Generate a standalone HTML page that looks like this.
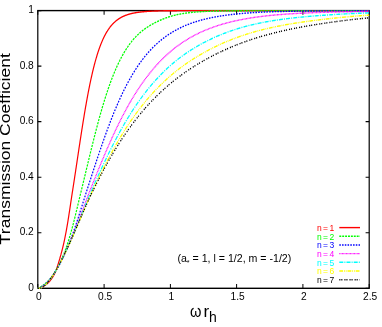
<!DOCTYPE html>
<html><head><meta charset="utf-8"><title>chart</title>
<style>
html,body{margin:0;padding:0;background:#fff;}
body{width:382px;height:327px;position:relative;overflow:hidden;font-family:"Liberation Sans",sans-serif;color:#000;}
.t{position:absolute;font-size:10.2px;line-height:12px;white-space:nowrap;}
.yt{left:0;width:33.8px;text-align:right;}
.xt{top:290.8px;width:40px;text-align:center;}
.lg{position:absolute;left:300px;width:34.2px;text-align:right;font-size:8.5px;line-height:10px;white-space:nowrap;word-spacing:-1px;}
.yl{position:absolute;left:-95.1px;top:139.35px;width:200px;height:20px;line-height:20px;font-size:15px;text-align:center;transform:rotate(-90deg) scaleX(1.167);transform-origin:center center;white-space:nowrap;font-variant-ligatures:none;font-kerning:none;}
.xl{position:absolute;font-size:17px;line-height:20px;height:20px;white-space:nowrap;}
.om{left:189.8px;top:302.1px;transform:scaleX(0.86);transform-origin:0 0;}
.rr{left:203.4px;top:302.1px;}
.hh{left:208.9px;top:307.3px;font-size:14px;}
.an{position:absolute;left:177.4px;top:251.8px;font-size:10.62px;line-height:13px;white-space:nowrap;}
.an sub{font-size:7px;vertical-align:baseline;position:relative;top:3px;}
</style></head><body>
<svg width="382" height="327" viewBox="0 0 382 327" style="position:absolute;left:0;top:0">
<g transform="scale(1,1.167)" fill="none" stroke-width="1.2">
<rect x="37.8" y="9.083" width="331.40" height="237.961" stroke="#000"/>
<path d="M37.8,247.04 v-3.60 M37.8,9.08 v3.60 M37.8,247.04 h3.6 M369.2,247.04 h-3.6 M104.1,247.04 v-3.60 M104.1,9.08 v3.60 M37.8,199.45 h3.6 M369.2,199.45 h-3.6 M170.4,247.04 v-3.60 M170.4,9.08 v3.60 M37.8,151.86 h3.6 M369.2,151.86 h-3.6 M236.6,247.04 v-3.60 M236.6,9.08 v3.60 M37.8,104.27 h3.6 M369.2,104.27 h-3.6 M302.9,247.04 v-3.60 M302.9,9.08 v3.60 M37.8,56.68 h3.6 M369.2,56.68 h-3.6 M369.2,247.04 v-3.60 M369.2,9.08 v3.60 M37.8,9.08 h3.6 M369.2,9.08 h-3.6" stroke="#000" stroke-width="1"/>
<path d="M37.80,247.04 L39.05,247.03 L39.26,246.97 L39.48,246.91 L39.69,246.84 L39.91,246.78 L40.13,246.71 L40.34,246.64 L40.56,246.57 L40.78,246.49 L40.99,246.42 L41.21,246.34 L41.43,246.26 L41.65,246.17 L41.86,246.08 L42.08,245.99 L42.30,245.90 L42.52,245.81 L42.74,245.71 L42.95,245.61 L43.17,245.51 L43.39,245.40 L43.61,245.29 L43.83,245.18 L44.05,245.06 L44.27,244.94 L44.49,244.82 L44.71,244.70 L44.93,244.57 L45.15,244.43 L45.38,244.30 L45.60,244.16 L45.82,244.02 L46.04,243.87 L46.26,243.72 L46.49,243.56 L46.71,243.41 L46.93,243.24 L47.16,243.08 L47.38,242.91 L47.60,242.73 L47.83,242.55 L48.05,242.37 L48.28,242.18 L48.50,241.99 L48.73,241.79 L48.95,241.59 L49.17,241.39 L49.40,241.17 L49.62,240.96 L49.85,240.74 L50.07,240.51 L50.30,240.28 L50.52,240.04 L50.74,239.80 L50.97,239.55 L51.19,239.30 L51.41,239.04 L51.63,238.78 L51.86,238.50 L52.07,238.23 L52.29,237.95 L52.51,237.66 L52.73,237.36 L52.94,237.06 L53.16,236.76 L53.37,236.44 L53.58,236.12 L53.79,235.79 L54.00,235.46 L54.21,235.12 L54.41,234.77 L54.61,234.42 L54.81,234.06 L55.01,233.69 L55.21,233.31 L55.40,232.93 L55.60,232.54 L55.79,232.14 L55.98,231.74 L56.17,231.32 L56.35,230.90 L56.54,230.47 L56.72,230.03 L56.90,229.59 L57.09,229.13 L57.27,228.67 L57.45,228.20 L57.63,227.72 L57.81,227.24 L57.99,226.74 L58.18,226.23 L58.36,225.72 L58.54,225.20 L58.73,224.67 L58.92,224.13 L59.11,223.58 L59.30,223.02 L59.49,222.45 L59.69,221.88 L59.88,221.29 L60.08,220.69 L60.28,220.09 L60.48,219.47 L60.68,218.85 L60.89,218.22 L61.09,217.57 L61.30,216.92 L61.51,216.26 L61.72,215.58 L61.93,214.90 L62.14,214.21 L62.35,213.51 L62.56,212.79 L62.76,212.07 L62.97,211.34 L63.18,210.60 L63.39,209.84 L63.59,209.08 L63.80,208.31 L64.00,207.53 L64.20,206.73 L64.40,205.93 L64.60,205.12 L64.80,204.30 L65.00,203.47 L65.20,202.62 L65.39,201.77 L65.59,200.91 L65.78,200.04 L65.98,199.15 L66.17,198.26 L66.36,197.36 L66.55,196.45 L66.74,195.53 L66.93,194.60 L67.12,193.66 L67.31,192.71 L67.50,191.75 L67.69,190.79 L67.87,189.81 L68.06,188.83 L68.25,187.83 L68.43,186.83 L68.62,185.82 L68.80,184.80 L68.99,183.77 L69.18,182.73 L69.36,181.69 L69.55,180.63 L69.74,179.57 L69.92,178.50 L70.11,177.43 L70.30,176.34 L70.49,175.25 L70.69,174.16 L70.88,173.05 L71.07,171.94 L71.27,170.82 L71.47,169.70 L71.67,168.57 L71.87,167.43 L72.07,166.29 L72.28,165.14 L72.49,163.99 L72.70,162.83 L72.91,161.67 L73.12,160.50 L73.34,159.32 L73.55,158.15 L73.76,156.97 L73.97,155.78 L74.18,154.59 L74.40,153.40 L74.61,152.21 L74.82,151.01 L75.03,149.81 L75.25,148.61 L75.46,147.40 L75.67,146.19 L75.88,144.98 L76.10,143.77 L76.31,142.56 L76.52,141.35 L76.73,140.14 L76.95,138.92 L77.16,137.71 L77.37,136.49 L77.58,135.28 L77.80,134.06 L78.01,132.85 L78.22,131.64 L78.43,130.43 L78.64,129.22 L78.86,128.01 L79.07,126.80 L79.28,125.60 L79.49,124.40 L79.71,123.20 L79.92,122.00 L80.13,120.81 L80.34,119.62 L80.56,118.43 L80.77,117.25 L80.98,116.07 L81.19,114.89 L81.41,113.72 L81.62,112.55 L81.83,111.39 L82.04,110.23 L82.26,109.08 L82.47,107.93 L82.68,106.79 L82.89,105.65 L83.10,104.52 L83.32,103.40 L83.53,102.28 L83.74,101.17 L83.95,100.06 L84.17,98.96 L84.38,97.86 L84.59,96.78 L84.80,95.70 L85.02,94.63 L85.23,93.56 L85.44,92.50 L85.65,91.45 L85.87,90.41 L86.08,89.37 L86.29,88.34 L86.50,87.32 L86.72,86.31 L86.93,85.30 L87.14,84.31 L87.35,83.32 L87.57,82.34 L87.78,81.37 L87.99,80.40 L88.20,79.45 L88.41,78.50 L88.63,77.56 L88.84,76.63 L89.05,75.71 L89.26,74.80 L89.48,73.89 L89.69,73.00 L89.90,72.11 L90.11,71.24 L90.33,70.37 L90.54,69.51 L90.75,68.66 L90.96,67.81 L91.18,66.98 L91.39,66.16 L91.60,65.34 L91.81,64.53 L92.03,63.73 L92.24,62.95 L92.45,62.16 L92.66,61.39 L92.87,60.63 L93.09,59.88 L93.30,59.13 L93.51,58.39 L93.72,57.67 L93.94,56.95 L94.15,56.24 L94.36,55.53 L94.57,54.84 L94.79,54.15 L95.00,53.48 L95.21,52.81 L95.42,52.15 L95.64,51.50 L95.85,50.85 L96.06,50.22 L96.27,49.59 L96.49,48.97 L96.70,48.36 L96.91,47.76 L97.12,47.16 L97.33,46.58 L97.55,46.00 L97.76,45.43 L97.97,44.86 L98.18,44.31 L98.40,43.76 L98.61,43.22 L98.82,42.68 L99.03,42.16 L99.25,41.64 L99.46,41.13 L99.67,40.62 L99.88,40.12 L100.10,39.63 L100.31,39.15 L100.52,38.67 L100.73,38.20 L100.95,37.74 L101.16,37.28 L101.37,36.83 L101.58,36.39 L101.80,35.95 L102.01,35.52 L102.22,35.10 L102.43,34.68 L102.64,34.27 L102.86,33.86 L103.07,33.46 L103.28,33.07 L103.49,32.68 L103.71,32.30 L103.92,31.92 L104.13,31.55 L104.34,31.19 L104.56,30.83 L104.77,30.47 L104.98,30.13 L105.19,29.78 L105.41,29.44 L105.62,29.11 L105.83,28.78 L106.04,28.46 L106.26,28.14 L106.47,27.83 L106.68,27.52 L106.89,27.22 L107.10,26.92 L107.32,26.63 L107.53,26.34 L107.74,26.05 L107.95,25.77 L108.17,25.50 L108.38,25.23 L108.59,24.96 L108.80,24.70 L109.02,24.44 L109.23,24.18 L109.44,23.93 L109.65,23.69 L109.87,23.45 L110.08,23.21 L110.29,22.97 L110.50,22.74 L110.72,22.51 L110.93,22.29 L111.14,22.07 L111.35,21.85 L111.56,21.64 L111.78,21.43 L111.99,21.22 L112.20,21.02 L112.41,20.82 L112.63,20.63 L112.84,20.43 L113.05,20.24 L113.26,20.06 L113.48,19.87 L113.69,19.69 L113.90,19.51 L114.11,19.34 L114.33,19.17 L114.54,19.00 L114.75,18.83 L114.96,18.67 L115.18,18.51 L115.39,18.35 L115.60,18.19 L115.81,18.04 L116.03,17.89 L116.24,17.74 L116.45,17.59 L116.66,17.45 L116.87,17.31 L117.09,17.17 L117.30,17.04 L117.51,16.90 L117.72,16.77 L117.94,16.64 L118.15,16.51 L118.36,16.39 L118.57,16.26 L118.79,16.14 L119.00,16.02 L119.21,15.91 L119.42,15.79 L119.64,15.68 L119.85,15.57 L120.06,15.46 L120.27,15.35 L120.49,15.24 L120.70,15.14 L120.91,15.04 L121.12,14.94 L121.33,14.84 L121.55,14.74 L121.76,14.64 L121.97,14.55 L122.18,14.46 L122.40,14.37 L122.61,14.28 L122.82,14.19 L123.03,14.10 L123.25,14.02 L123.46,13.93 L123.67,13.85 L123.88,13.77 L124.10,13.69 L124.31,13.61 L124.52,13.54 L124.73,13.46 L124.95,13.39 L125.16,13.31 L125.37,13.24 L125.58,13.17 L125.80,13.10 L126.01,13.03 L126.22,12.97 L126.43,12.90 L126.64,12.84 L126.86,12.77 L127.07,12.71 L127.28,12.65 L127.49,12.59 L127.71,12.53 L127.92,12.47 L128.13,12.41 L128.34,12.35 L128.56,12.30 L128.77,12.24 L128.98,12.19 L129.19,12.14 L129.41,12.09 L129.62,12.03 L129.83,11.98 L130.04,11.94 L130.26,11.89 L130.47,11.84 L130.68,11.79 L130.89,11.75 L131.10,11.70 L131.32,11.66 L131.53,11.61 L131.74,11.57 L131.95,11.53 L132.17,11.49 L132.38,11.44 L132.59,11.40 L132.80,11.36 L133.02,11.33 L133.23,11.29 L133.44,11.25 L133.65,11.21 L133.87,11.18 L134.08,11.14 L134.29,11.11 L134.50,11.07 L134.72,11.04 L134.93,11.00 L135.14,10.97 L135.35,10.94 L135.56,10.91 L135.78,10.88 L135.99,10.85 L136.20,10.82 L136.41,10.79 L136.63,10.76 L136.84,10.73 L137.05,10.70 L137.26,10.67 L137.48,10.65 L137.69,10.62 L137.90,10.59 L138.11,10.57 L138.33,10.54 L138.54,10.52 L138.75,10.49 L138.96,10.47 L139.18,10.45 L139.39,10.42 L139.60,10.40 L139.81,10.38 L140.03,10.35 L140.24,10.33 L140.45,10.31 L140.66,10.29 L140.87,10.27 L141.09,10.25 L141.30,10.23 L141.51,10.21 L141.72,10.19 L141.94,10.17 L142.15,10.15 L142.36,10.13 L142.57,10.12 L142.79,10.10 L143.00,10.08 L143.21,10.06 L143.42,10.05 L143.64,10.03 L143.85,10.01 L144.41,9.97 L144.98,9.93 L145.54,9.89 L146.11,9.86 L146.67,9.82 L147.24,9.79 L147.80,9.76 L148.37,9.73 L148.93,9.70 L149.50,9.67 L150.06,9.64 L150.63,9.62 L151.19,9.60 L151.76,9.57 L152.32,9.55 L152.88,9.53 L153.45,9.51 L154.01,9.49 L154.58,9.47 L155.14,9.45 L155.71,9.44 L156.27,9.42 L156.84,9.41 L157.40,9.39 L157.97,9.38 L158.53,9.36 L159.10,9.35 L159.66,9.34 L160.23,9.33 L160.79,9.32 L161.36,9.31 L161.92,9.29 L162.49,9.29 L163.05,9.28 L163.62,9.27 L164.18,9.26 L164.75,9.25 L165.31,9.24 L165.87,9.24 L166.44,9.23 L167.00,9.22 L167.57,9.22 L168.13,9.21 L168.70,9.20 L169.26,9.20 L169.83,9.19 L170.39,9.19 L170.96,9.18 L171.52,9.18 L172.09,9.17 L172.65,9.17 L173.22,9.17 L173.78,9.16 L174.35,9.16 L174.91,9.15 L175.48,9.15 L176.04,9.15 L176.61,9.15 L177.17,9.14 L177.74,9.14 L178.30,9.14 L178.87,9.13 L179.43,9.13 L179.99,9.13 L180.56,9.13 L181.12,9.13 L181.69,9.12 L182.25,9.12 L182.82,9.12 L183.38,9.12 L183.95,9.12 L184.51,9.11 L185.08,9.11 L185.64,9.11 L186.21,9.11 L186.77,9.11 L187.34,9.11 L187.90,9.11 L188.47,9.11 L189.03,9.10 L189.60,9.10 L190.16,9.10 L190.73,9.10 L191.29,9.10 L191.86,9.10 L192.42,9.10 L192.98,9.10 L193.55,9.10 L194.11,9.10 L194.68,9.10 L195.24,9.10 L195.81,9.09 L196.37,9.09 L196.94,9.09 L197.50,9.09 L198.07,9.09 L198.63,9.09 L199.20,9.09 L199.76,9.09 L200.33,9.09 L200.89,9.09 L201.46,9.09 L202.02,9.09 L202.59,9.09 L203.15,9.09 L203.72,9.09 L204.28,9.09 L204.85,9.09 L205.41,9.09 L205.98,9.09 L206.54,9.09 L207.10,9.09 L207.67,9.09 L208.23,9.09 L208.80,9.09 L209.36,9.09 L209.93,9.09 L210.49,9.09 L211.06,9.09 L211.62,9.09 L212.19,9.09 L212.75,9.09 L213.32,9.09 L213.88,9.09 L214.45,9.09 L215.01,9.09 L215.58,9.09 L216.14,9.08 L216.71,9.08 L217.27,9.08 L217.84,9.08 L218.40,9.08 L218.97,9.08 L219.53,9.08 L220.09,9.08 L220.66,9.08 L221.22,9.08 L221.79,9.08 L222.35,9.08 L222.92,9.08 L223.48,9.08 L224.05,9.08 L224.61,9.08 L225.18,9.08 L225.74,9.08 L226.31,9.08 L226.87,9.08 L227.44,9.08 L228.00,9.08 L228.57,9.08 L229.13,9.08 L229.70,9.08 L230.26,9.08 L230.83,9.08 L231.39,9.08 L231.96,9.08 L232.52,9.08 L233.09,9.08 L233.65,9.08 L234.21,9.08 L234.78,9.08 L235.34,9.08 L235.91,9.08 L236.47,9.08 L237.04,9.08 L237.60,9.08 L238.17,9.08 L238.73,9.08 L239.30,9.08 L239.86,9.08 L240.43,9.08 L240.99,9.08 L241.56,9.08 L242.12,9.08 L242.69,9.08 L243.25,9.08 L243.82,9.08 L244.38,9.08 L244.95,9.08 L245.51,9.08 L246.08,9.08 L246.64,9.08 L247.20,9.08 L247.77,9.08 L248.33,9.08 L248.90,9.08 L249.46,9.08 L250.03,9.08 L250.59,9.08 L251.16,9.08 L251.72,9.08 L252.29,9.08 L252.85,9.08 L253.42,9.08 L253.98,9.08 L254.55,9.08 L255.11,9.08 L255.68,9.08 L256.24,9.08 L256.81,9.08 L257.37,9.08 L257.94,9.08 L258.50,9.08 L259.07,9.08 L259.63,9.08 L260.20,9.08 L260.76,9.08 L261.32,9.08 L261.89,9.08 L262.45,9.08 L263.02,9.08 L263.58,9.08 L264.15,9.08 L264.71,9.08 L265.28,9.08 L265.84,9.08 L266.41,9.08 L266.97,9.08 L267.54,9.08 L268.10,9.08 L268.67,9.08 L269.23,9.08 L269.80,9.08 L270.36,9.08 L270.93,9.08 L271.49,9.08 L272.06,9.08 L272.62,9.08 L273.19,9.08 L273.75,9.08 L274.31,9.08 L274.88,9.08 L275.44,9.08 L276.01,9.08 L276.57,9.08 L277.14,9.08 L277.70,9.08 L278.27,9.08 L278.83,9.08 L279.40,9.08 L279.96,9.08 L280.53,9.08 L281.09,9.08 L281.66,9.08 L282.22,9.08 L282.79,9.08 L283.35,9.08 L283.92,9.08 L284.48,9.08 L285.05,9.08 L285.61,9.08 L286.18,9.08 L286.74,9.08 L287.31,9.08 L287.87,9.08 L288.43,9.08 L289.00,9.08 L289.56,9.08 L290.13,9.08 L290.69,9.08 L291.26,9.08 L291.82,9.08 L292.39,9.08 L292.95,9.08 L293.52,9.08 L294.08,9.08 L294.65,9.08 L295.21,9.08 L295.78,9.08 L296.34,9.08 L296.91,9.08 L297.47,9.08 L298.04,9.08 L298.60,9.08 L299.17,9.08 L299.73,9.08 L300.30,9.08 L300.86,9.08 L301.42,9.08 L301.99,9.08 L302.55,9.08 L303.12,9.08 L303.68,9.08 L304.25,9.08 L304.81,9.08 L305.38,9.08 L305.94,9.08 L306.51,9.08 L307.07,9.08 L307.64,9.08 L308.20,9.08 L308.77,9.08 L309.33,9.08 L309.90,9.08 L310.46,9.08 L311.03,9.08 L311.59,9.08 L312.16,9.08 L312.72,9.08 L313.29,9.08 L313.85,9.08 L314.42,9.08 L314.98,9.08 L315.54,9.08 L316.11,9.08 L316.67,9.08 L317.24,9.08 L317.80,9.08 L318.37,9.08 L318.93,9.08 L319.50,9.08 L320.06,9.08 L320.63,9.08 L321.19,9.08 L321.76,9.08 L322.32,9.08 L322.89,9.08 L323.45,9.08 L324.02,9.08 L324.58,9.08 L325.15,9.08 L325.71,9.08 L326.28,9.08 L326.84,9.08 L327.41,9.08 L327.97,9.08 L328.53,9.08 L329.10,9.08 L329.66,9.08 L330.23,9.08 L330.79,9.08 L331.36,9.08 L331.92,9.08 L332.49,9.08 L333.05,9.08 L333.62,9.08 L334.18,9.08 L334.75,9.08 L335.31,9.08 L335.88,9.08 L336.44,9.08 L337.01,9.08 L337.57,9.08 L338.14,9.08 L338.70,9.08 L339.27,9.08 L339.83,9.08 L340.40,9.08 L340.96,9.08 L341.53,9.08 L342.09,9.08 L342.65,9.08 L343.22,9.08 L343.78,9.08 L344.35,9.08 L344.91,9.08 L345.48,9.08 L346.04,9.08 L346.61,9.08 L347.17,9.08 L347.74,9.08 L348.30,9.08 L348.87,9.08 L349.43,9.08 L350.00,9.08 L350.56,9.08 L351.13,9.08 L351.69,9.08 L352.26,9.08 L352.82,9.08 L353.39,9.08 L353.95,9.08 L354.52,9.08 L355.08,9.08 L355.64,9.08 L356.21,9.08 L356.77,9.08 L357.34,9.08 L357.90,9.08 L358.47,9.08 L359.03,9.08 L359.60,9.08 L360.16,9.08 L360.73,9.08 L361.29,9.08 L361.86,9.08 L362.42,9.08 L362.99,9.08 L363.55,9.08 L364.12,9.08 L364.68,9.08 L365.25,9.08 L365.81,9.08 L366.38,9.08 L366.94,9.08 L367.51,9.08 L368.07,9.08 L368.64,9.08 L369.20,9.08" stroke="#ff0000"/>
<path d="M37.80,247.04 L38.77,246.97 L38.98,246.81 L39.19,246.67 L39.40,246.55 L39.62,246.43 L39.83,246.31 L40.04,246.19 L40.25,246.07 L40.47,245.96 L40.68,245.84 L40.89,245.73 L41.10,245.61 L41.31,245.49 L41.53,245.38 L41.74,245.26 L41.95,245.13 L42.16,245.01 L42.38,244.89 L42.59,244.76 L42.80,244.64 L43.01,244.51 L43.23,244.38 L43.44,244.25 L43.65,244.11 L43.86,243.98 L44.08,243.84 L44.29,243.70 L44.50,243.56 L44.71,243.41 L44.93,243.26 L45.14,243.12 L45.35,242.97 L45.56,242.81 L45.78,242.66 L45.99,242.50 L46.20,242.34 L46.41,242.18 L46.62,242.01 L46.84,241.84 L47.05,241.67 L47.26,241.50 L47.47,241.32 L47.69,241.15 L47.90,240.96 L48.11,240.78 L48.32,240.59 L48.54,240.41 L48.75,240.21 L48.96,240.02 L49.17,239.82 L49.39,239.62 L49.60,239.42 L49.81,239.21 L50.02,239.00 L50.24,238.79 L50.45,238.57 L50.66,238.35 L50.87,238.13 L51.08,237.90 L51.30,237.67 L51.51,237.44 L51.72,237.21 L51.93,236.97 L52.15,236.73 L52.36,236.48 L52.57,236.23 L52.78,235.98 L53.00,235.73 L53.21,235.47 L53.42,235.20 L53.63,234.94 L53.85,234.67 L54.06,234.39 L54.27,234.12 L54.48,233.84 L54.70,233.55 L54.91,233.26 L55.12,232.97 L55.33,232.68 L55.54,232.38 L55.76,232.08 L55.97,231.77 L56.18,231.46 L56.39,231.14 L56.61,230.83 L56.82,230.50 L57.03,230.18 L57.24,229.85 L57.46,229.51 L57.67,229.18 L57.88,228.83 L58.09,228.49 L58.31,228.14 L58.52,227.78 L58.73,227.42 L58.94,227.06 L59.16,226.70 L59.37,226.32 L59.58,225.95 L59.79,225.57 L60.01,225.19 L60.22,224.80 L60.43,224.41 L60.64,224.01 L60.85,223.61 L61.07,223.21 L61.28,222.80 L61.49,222.39 L61.70,221.97 L61.92,221.55 L62.13,221.12 L62.34,220.69 L62.55,220.26 L62.77,219.82 L62.98,219.38 L63.19,218.93 L63.40,218.48 L63.62,218.02 L63.83,217.56 L64.04,217.10 L64.25,216.63 L64.47,216.16 L64.68,215.68 L64.89,215.20 L65.10,214.71 L65.31,214.22 L65.53,213.73 L65.74,213.23 L65.95,212.72 L66.16,212.22 L66.37,211.71 L66.58,211.19 L66.79,210.67 L67.00,210.14 L67.21,209.62 L67.41,209.08 L67.62,208.55 L67.83,208.00 L68.03,207.46 L68.24,206.91 L68.44,206.36 L68.65,205.80 L68.85,205.23 L69.06,204.67 L69.26,204.10 L69.46,203.52 L69.66,202.95 L69.87,202.36 L70.07,201.78 L70.27,201.19 L70.47,200.59 L70.67,199.99 L70.87,199.39 L71.07,198.79 L71.27,198.18 L71.46,197.56 L71.66,196.95 L71.86,196.33 L72.06,195.70 L72.25,195.07 L72.45,194.44 L72.65,193.81 L72.84,193.17 L73.04,192.53 L73.24,191.88 L73.43,191.23 L73.63,190.58 L73.82,189.92 L74.02,189.26 L74.21,188.60 L74.41,187.93 L74.60,187.26 L74.80,186.59 L74.99,185.92 L75.19,185.24 L75.38,184.56 L75.58,183.87 L75.77,183.19 L75.97,182.50 L76.16,181.80 L76.36,181.11 L76.55,180.41 L76.75,179.71 L76.94,179.01 L77.14,178.30 L77.34,177.59 L77.54,176.88 L77.73,176.17 L77.93,175.45 L78.13,174.73 L78.33,174.01 L78.53,173.29 L78.73,172.57 L78.93,171.84 L79.13,171.11 L79.33,170.38 L79.54,169.65 L79.74,168.92 L79.95,168.18 L80.15,167.44 L80.36,166.70 L80.57,165.96 L80.77,165.22 L80.98,164.48 L81.19,163.73 L81.41,162.99 L81.62,162.24 L81.83,161.49 L82.04,160.74 L82.26,159.99 L82.47,159.24 L82.68,158.48 L82.89,157.73 L83.10,156.97 L83.32,156.22 L83.53,155.46 L83.74,154.70 L83.95,153.95 L84.17,153.19 L84.38,152.43 L84.59,151.67 L84.80,150.91 L85.02,150.15 L85.23,149.39 L85.44,148.63 L85.65,147.87 L85.87,147.11 L86.08,146.35 L86.29,145.59 L86.50,144.83 L86.72,144.07 L86.93,143.31 L87.14,142.55 L87.35,141.79 L87.57,141.03 L87.78,140.27 L87.99,139.51 L88.20,138.75 L88.41,138.00 L88.63,137.24 L88.84,136.49 L89.05,135.73 L89.26,134.98 L89.48,134.22 L89.69,133.47 L89.90,132.72 L90.11,131.97 L90.33,131.22 L90.54,130.47 L90.75,129.73 L90.96,128.98 L91.18,128.24 L91.39,127.50 L91.60,126.76 L91.81,126.02 L92.03,125.28 L92.24,124.54 L92.45,123.81 L92.66,123.07 L92.87,122.34 L93.09,121.61 L93.30,120.88 L93.51,120.16 L93.72,119.43 L93.94,118.71 L94.15,117.99 L94.36,117.27 L94.57,116.55 L94.79,115.84 L95.00,115.13 L95.21,114.42 L95.42,113.71 L95.64,113.00 L95.85,112.30 L96.06,111.60 L96.27,110.90 L96.49,110.20 L96.70,109.51 L96.91,108.82 L97.12,108.13 L97.33,107.44 L97.55,106.76 L97.76,106.08 L97.97,105.40 L98.18,104.72 L98.40,104.05 L98.61,103.37 L98.82,102.71 L99.03,102.04 L99.25,101.38 L99.46,100.72 L99.67,100.06 L99.88,99.40 L100.10,98.75 L100.31,98.10 L100.52,97.46 L100.73,96.81 L100.95,96.17 L101.16,95.54 L101.37,94.90 L101.58,94.27 L101.80,93.64 L102.01,93.02 L102.22,92.39 L102.43,91.77 L102.64,91.16 L102.86,90.54 L103.07,89.93 L103.28,89.33 L103.49,88.72 L103.71,88.12 L103.92,87.52 L104.13,86.93 L104.34,86.34 L104.56,85.75 L104.77,85.16 L104.98,84.58 L105.19,84.00 L105.41,83.42 L105.62,82.85 L105.83,82.28 L106.04,81.72 L106.26,81.15 L106.47,80.59 L106.68,80.04 L106.89,79.48 L107.10,78.93 L107.32,78.39 L107.53,77.84 L107.74,77.30 L107.95,76.76 L108.17,76.23 L108.38,75.70 L108.59,75.17 L108.80,74.65 L109.02,74.13 L109.23,73.61 L109.44,73.09 L109.65,72.58 L109.87,72.07 L110.08,71.57 L110.29,71.07 L110.50,70.57 L110.72,70.07 L110.93,69.58 L111.14,69.09 L111.35,68.61 L111.56,68.13 L111.78,67.65 L111.99,67.17 L112.20,66.70 L112.41,66.23 L112.63,65.76 L112.84,65.30 L113.05,64.84 L113.26,64.38 L113.48,63.93 L113.69,63.47 L113.90,63.03 L114.11,62.58 L114.33,62.14 L114.54,61.70 L114.75,61.27 L114.96,60.84 L115.18,60.41 L115.39,59.98 L115.60,59.56 L115.81,59.14 L116.03,58.72 L116.24,58.31 L116.45,57.90 L116.66,57.49 L116.87,57.08 L117.09,56.68 L117.30,56.28 L117.51,55.89 L117.72,55.49 L117.94,55.10 L118.15,54.72 L118.36,54.33 L118.57,53.95 L118.79,53.57 L119.00,53.20 L119.21,52.82 L119.42,52.45 L119.64,52.09 L119.85,51.72 L120.06,51.36 L120.27,51.00 L120.49,50.65 L120.70,50.30 L120.91,49.95 L121.12,49.60 L121.33,49.25 L121.55,48.91 L121.76,48.57 L121.97,48.24 L122.18,47.90 L122.40,47.57 L122.61,47.24 L122.82,46.92 L123.03,46.59 L123.25,46.27 L123.46,45.96 L123.67,45.64 L123.88,45.33 L124.10,45.02 L124.31,44.71 L124.52,44.41 L124.73,44.10 L124.95,43.80 L125.16,43.51 L125.37,43.21 L125.58,42.92 L125.80,42.63 L126.01,42.34 L126.22,42.06 L126.43,41.77 L126.64,41.49 L126.86,41.22 L127.07,40.94 L127.28,40.67 L127.49,40.40 L127.71,40.13 L127.92,39.86 L128.13,39.60 L128.34,39.34 L128.56,39.08 L128.77,38.82 L128.98,38.57 L129.19,38.31 L129.41,38.06 L129.62,37.82 L129.83,37.57 L130.04,37.33 L130.26,37.09 L130.47,36.85 L130.68,36.61 L130.89,36.37 L131.10,36.14 L131.32,35.91 L131.53,35.68 L131.74,35.45 L131.95,35.23 L132.17,35.01 L132.38,34.79 L132.59,34.57 L132.80,34.35 L133.02,34.13 L133.23,33.92 L133.44,33.71 L133.65,33.50 L133.87,33.29 L134.08,33.09 L134.29,32.89 L134.50,32.68 L134.72,32.48 L134.93,32.29 L135.14,32.09 L135.35,31.89 L135.56,31.70 L135.78,31.51 L135.99,31.32 L136.20,31.13 L136.41,30.95 L136.63,30.76 L136.84,30.58 L137.05,30.40 L137.26,30.22 L137.48,30.04 L137.69,29.87 L137.90,29.69 L138.11,29.52 L138.33,29.35 L138.54,29.18 L138.75,29.01 L138.96,28.84 L139.18,28.68 L139.39,28.51 L139.60,28.35 L139.81,28.19 L140.03,28.03 L140.24,27.87 L140.45,27.72 L140.66,27.56 L140.87,27.41 L141.09,27.25 L141.30,27.10 L141.51,26.95 L141.72,26.80 L141.94,26.66 L142.15,26.51 L142.36,26.36 L142.57,26.22 L142.79,26.08 L143.00,25.94 L143.21,25.80 L143.42,25.66 L143.64,25.52 L143.85,25.38 L144.41,25.02 L144.98,24.67 L145.54,24.33 L146.11,23.99 L146.67,23.66 L147.24,23.34 L147.80,23.02 L148.37,22.71 L148.93,22.41 L149.50,22.11 L150.06,21.82 L150.63,21.53 L151.19,21.25 L151.76,20.97 L152.32,20.70 L152.88,20.43 L153.45,20.17 L154.01,19.91 L154.58,19.65 L155.14,19.40 L155.71,19.16 L156.27,18.92 L156.84,18.68 L157.40,18.44 L157.97,18.21 L158.53,17.99 L159.10,17.76 L159.66,17.55 L160.23,17.33 L160.79,17.12 L161.36,16.91 L161.92,16.71 L162.49,16.51 L163.05,16.31 L163.62,16.12 L164.18,15.93 L164.75,15.74 L165.31,15.56 L165.87,15.38 L166.44,15.21 L167.00,15.04 L167.57,14.87 L168.13,14.71 L168.70,14.55 L169.26,14.39 L169.83,14.24 L170.39,14.09 L170.96,13.94 L171.52,13.80 L172.09,13.66 L172.65,13.53 L173.22,13.40 L173.78,13.27 L174.35,13.14 L174.91,13.02 L175.48,12.90 L176.04,12.79 L176.61,12.68 L177.17,12.57 L177.74,12.46 L178.30,12.36 L178.87,12.26 L179.43,12.16 L179.99,12.07 L180.56,11.98 L181.12,11.89 L181.69,11.81 L182.25,11.72 L182.82,11.64 L183.38,11.56 L183.95,11.49 L184.51,11.41 L185.08,11.34 L185.64,11.27 L186.21,11.20 L186.77,11.14 L187.34,11.08 L187.90,11.01 L188.47,10.95 L189.03,10.90 L189.60,10.84 L190.16,10.79 L190.73,10.73 L191.29,10.68 L191.86,10.63 L192.42,10.58 L192.98,10.54 L193.55,10.49 L194.11,10.45 L194.68,10.41 L195.24,10.36 L195.81,10.32 L196.37,10.29 L196.94,10.25 L197.50,10.21 L198.07,10.18 L198.63,10.14 L199.20,10.11 L199.76,10.07 L200.33,10.04 L200.89,10.01 L201.46,9.98 L202.02,9.95 L202.59,9.93 L203.15,9.90 L203.72,9.87 L204.28,9.85 L204.85,9.82 L205.41,9.80 L205.98,9.77 L206.54,9.75 L207.10,9.73 L207.67,9.71 L208.23,9.69 L208.80,9.67 L209.36,9.65 L209.93,9.63 L210.49,9.61 L211.06,9.59 L211.62,9.57 L212.19,9.56 L212.75,9.54 L213.32,9.52 L213.88,9.51 L214.45,9.49 L215.01,9.48 L215.58,9.47 L216.14,9.45 L216.71,9.44 L217.27,9.43 L217.84,9.41 L218.40,9.40 L218.97,9.39 L219.53,9.38 L220.09,9.37 L220.66,9.36 L221.22,9.35 L221.79,9.34 L222.35,9.33 L222.92,9.32 L223.48,9.31 L224.05,9.30 L224.61,9.30 L225.18,9.29 L225.74,9.28 L226.31,9.27 L226.87,9.26 L227.44,9.26 L228.00,9.25 L228.57,9.24 L229.13,9.24 L229.70,9.23 L230.26,9.23 L230.83,9.22 L231.39,9.22 L231.96,9.21 L232.52,9.21 L233.09,9.20 L233.65,9.20 L234.21,9.19 L234.78,9.19 L235.34,9.18 L235.91,9.18 L236.47,9.17 L237.04,9.17 L237.60,9.17 L238.17,9.16 L238.73,9.16 L239.30,9.16 L239.86,9.15 L240.43,9.15 L240.99,9.15 L241.56,9.15 L242.12,9.14 L242.69,9.14 L243.25,9.14 L243.82,9.14 L244.38,9.13 L244.95,9.13 L245.51,9.13 L246.08,9.13 L246.64,9.12 L247.20,9.12 L247.77,9.12 L248.33,9.12 L248.90,9.12 L249.46,9.12 L250.03,9.11 L250.59,9.11 L251.16,9.11 L251.72,9.11 L252.29,9.11 L252.85,9.11 L253.42,9.11 L253.98,9.11 L254.55,9.10 L255.11,9.10 L255.68,9.10 L256.24,9.10 L256.81,9.10 L257.37,9.10 L257.94,9.10 L258.50,9.10 L259.07,9.10 L259.63,9.10 L260.20,9.10 L260.76,9.10 L261.32,9.10 L261.89,9.09 L262.45,9.09 L263.02,9.09 L263.58,9.09 L264.15,9.09 L264.71,9.09 L265.28,9.09 L265.84,9.09 L266.41,9.09 L266.97,9.09 L267.54,9.09 L268.10,9.09 L268.67,9.09 L269.23,9.09 L269.80,9.09 L270.36,9.09 L270.93,9.09 L271.49,9.09 L272.06,9.09 L272.62,9.09 L273.19,9.09 L273.75,9.09 L274.31,9.09 L274.88,9.09 L275.44,9.09 L276.01,9.09 L276.57,9.09 L277.14,9.09 L277.70,9.09 L278.27,9.09 L278.83,9.09 L279.40,9.09 L279.96,9.09 L280.53,9.08 L281.09,9.08 L281.66,9.08 L282.22,9.08 L282.79,9.08 L283.35,9.08 L283.92,9.08 L284.48,9.08 L285.05,9.08 L285.61,9.08 L286.18,9.08 L286.74,9.08 L287.31,9.08 L287.87,9.08 L288.43,9.08 L289.00,9.08 L289.56,9.08 L290.13,9.08 L290.69,9.08 L291.26,9.08 L291.82,9.08 L292.39,9.08 L292.95,9.08 L293.52,9.08 L294.08,9.08 L294.65,9.08 L295.21,9.08 L295.78,9.08 L296.34,9.08 L296.91,9.08 L297.47,9.08 L298.04,9.08 L298.60,9.08 L299.17,9.08 L299.73,9.08 L300.30,9.08 L300.86,9.08 L301.42,9.08 L301.99,9.08 L302.55,9.08 L303.12,9.08 L303.68,9.08 L304.25,9.08 L304.81,9.08 L305.38,9.08 L305.94,9.08 L306.51,9.08 L307.07,9.08 L307.64,9.08 L308.20,9.08 L308.77,9.08 L309.33,9.08 L309.90,9.08 L310.46,9.08 L311.03,9.08 L311.59,9.08 L312.16,9.08 L312.72,9.08 L313.29,9.08 L313.85,9.08 L314.42,9.08 L314.98,9.08 L315.54,9.08 L316.11,9.08 L316.67,9.08 L317.24,9.08 L317.80,9.08 L318.37,9.08 L318.93,9.08 L319.50,9.08 L320.06,9.08 L320.63,9.08 L321.19,9.08 L321.76,9.08 L322.32,9.08 L322.89,9.08 L323.45,9.08 L324.02,9.08 L324.58,9.08 L325.15,9.08 L325.71,9.08 L326.28,9.08 L326.84,9.08 L327.41,9.08 L327.97,9.08 L328.53,9.08 L329.10,9.08 L329.66,9.08 L330.23,9.08 L330.79,9.08 L331.36,9.08 L331.92,9.08 L332.49,9.08 L333.05,9.08 L333.62,9.08 L334.18,9.08 L334.75,9.08 L335.31,9.08 L335.88,9.08 L336.44,9.08 L337.01,9.08 L337.57,9.08 L338.14,9.08 L338.70,9.08 L339.27,9.08 L339.83,9.08 L340.40,9.08 L340.96,9.08 L341.53,9.08 L342.09,9.08 L342.65,9.08 L343.22,9.08 L343.78,9.08 L344.35,9.08 L344.91,9.08 L345.48,9.08 L346.04,9.08 L346.61,9.08 L347.17,9.08 L347.74,9.08 L348.30,9.08 L348.87,9.08 L349.43,9.08 L350.00,9.08 L350.56,9.08 L351.13,9.08 L351.69,9.08 L352.26,9.08 L352.82,9.08 L353.39,9.08 L353.95,9.08 L354.52,9.08 L355.08,9.08 L355.64,9.08 L356.21,9.08 L356.77,9.08 L357.34,9.08 L357.90,9.08 L358.47,9.08 L359.03,9.08 L359.60,9.08 L360.16,9.08 L360.73,9.08 L361.29,9.08 L361.86,9.08 L362.42,9.08 L362.99,9.08 L363.55,9.08 L364.12,9.08 L364.68,9.08 L365.25,9.08 L365.81,9.08 L366.38,9.08 L366.94,9.08 L367.51,9.08 L368.07,9.08 L368.64,9.08 L369.20,9.08" stroke="#00ff00" stroke-dasharray="1.95 0.95"/>
<path d="M37.80,247.04 L38.77,247.03 L38.98,246.98 L39.19,246.91 L39.40,246.83 L39.62,246.75 L39.83,246.67 L40.04,246.58 L40.25,246.48 L40.47,246.39 L40.68,246.28 L40.89,246.18 L41.10,246.07 L41.31,245.96 L41.53,245.85 L41.74,245.73 L41.95,245.61 L42.16,245.48 L42.38,245.36 L42.59,245.23 L42.80,245.10 L43.01,244.96 L43.23,244.83 L43.44,244.69 L43.65,244.54 L43.86,244.40 L44.08,244.25 L44.29,244.10 L44.50,243.95 L44.71,243.79 L44.93,243.64 L45.14,243.48 L45.35,243.31 L45.56,243.15 L45.78,242.98 L45.99,242.81 L46.20,242.63 L46.41,242.46 L46.62,242.28 L46.84,242.10 L47.05,241.91 L47.26,241.73 L47.47,241.54 L47.69,241.35 L47.90,241.15 L48.11,240.96 L48.32,240.76 L48.54,240.56 L48.75,240.35 L48.96,240.15 L49.17,239.94 L49.39,239.72 L49.60,239.51 L49.81,239.29 L50.02,239.07 L50.24,238.85 L50.45,238.63 L50.66,238.40 L50.87,238.17 L51.08,237.94 L51.30,237.70 L51.51,237.46 L51.72,237.22 L51.93,236.98 L52.15,236.73 L52.36,236.49 L52.57,236.23 L52.78,235.98 L53.00,235.72 L53.21,235.47 L53.42,235.20 L53.63,234.94 L53.85,234.67 L54.06,234.41 L54.27,234.13 L54.48,233.86 L54.70,233.58 L54.91,233.30 L55.12,233.02 L55.33,232.73 L55.54,232.45 L55.76,232.16 L55.97,231.86 L56.18,231.57 L56.39,231.27 L56.61,230.97 L56.82,230.67 L57.03,230.36 L57.24,230.05 L57.46,229.74 L57.67,229.43 L57.88,229.11 L58.09,228.79 L58.31,228.47 L58.52,228.15 L58.73,227.82 L58.94,227.49 L59.16,227.16 L59.37,226.82 L59.58,226.49 L59.79,226.15 L60.01,225.80 L60.22,225.46 L60.43,225.11 L60.64,224.76 L60.85,224.41 L61.07,224.05 L61.28,223.69 L61.49,223.33 L61.70,222.97 L61.92,222.61 L62.13,222.24 L62.34,221.87 L62.55,221.49 L62.77,221.12 L62.98,220.74 L63.19,220.36 L63.40,219.98 L63.62,219.59 L63.83,219.20 L64.04,218.81 L64.25,218.42 L64.47,218.02 L64.68,217.63 L64.89,217.23 L65.10,216.82 L65.31,216.42 L65.53,216.01 L65.74,215.60 L65.95,215.19 L66.16,214.77 L66.38,214.36 L66.59,213.94 L66.80,213.51 L67.01,213.09 L67.22,212.66 L67.43,212.24 L67.65,211.80 L67.86,211.37 L68.07,210.94 L68.27,210.50 L68.48,210.06 L68.69,209.62 L68.90,209.17 L69.11,208.73 L69.32,208.28 L69.52,207.83 L69.73,207.37 L69.94,206.92 L70.14,206.46 L70.35,206.00 L70.56,205.54 L70.76,205.08 L70.97,204.61 L71.17,204.14 L71.38,203.68 L71.58,203.20 L71.78,202.73 L71.99,202.25 L72.19,201.78 L72.39,201.30 L72.60,200.82 L72.80,200.33 L73.00,199.85 L73.20,199.36 L73.41,198.87 L73.61,198.38 L73.81,197.89 L74.01,197.40 L74.21,196.90 L74.41,196.40 L74.61,195.91 L74.81,195.40 L75.01,194.90 L75.21,194.40 L75.41,193.89 L75.61,193.38 L75.81,192.88 L76.01,192.37 L76.21,191.85 L76.41,191.34 L76.61,190.82 L76.81,190.31 L77.00,189.79 L77.20,189.27 L77.40,188.75 L77.60,188.23 L77.80,187.70 L78.00,187.18 L78.20,186.65 L78.40,186.13 L78.59,185.60 L78.79,185.07 L78.99,184.54 L79.19,184.00 L79.39,183.47 L79.59,182.93 L79.79,182.40 L79.99,181.86 L80.19,181.32 L80.38,180.78 L80.58,180.24 L80.78,179.70 L80.98,179.16 L81.18,178.62 L81.38,178.07 L81.58,177.53 L81.79,176.98 L81.99,176.44 L82.19,175.89 L82.39,175.34 L82.59,174.79 L82.79,174.24 L83.00,173.69 L83.20,173.14 L83.40,172.59 L83.61,172.03 L83.81,171.48 L84.01,170.92 L84.22,170.37 L84.42,169.81 L84.63,169.26 L84.84,168.70 L85.04,168.15 L85.25,167.59 L85.46,167.03 L85.67,166.47 L85.88,165.91 L86.08,165.35 L86.29,164.79 L86.51,164.23 L86.72,163.67 L86.93,163.11 L87.14,162.55 L87.35,161.99 L87.57,161.43 L87.78,160.87 L87.99,160.31 L88.20,159.75 L88.41,159.18 L88.63,158.62 L88.84,158.06 L89.05,157.50 L89.26,156.94 L89.48,156.38 L89.69,155.81 L89.90,155.25 L90.11,154.69 L90.33,154.13 L90.54,153.57 L90.75,153.00 L90.96,152.44 L91.18,151.88 L91.39,151.32 L91.60,150.76 L91.81,150.20 L92.03,149.64 L92.24,149.08 L92.45,148.52 L92.66,147.96 L92.87,147.40 L93.09,146.84 L93.30,146.28 L93.51,145.72 L93.72,145.17 L93.94,144.61 L94.15,144.05 L94.36,143.50 L94.57,142.94 L94.79,142.39 L95.00,141.83 L95.21,141.28 L95.42,140.73 L95.64,140.17 L95.85,139.62 L96.06,139.07 L96.27,138.52 L96.49,137.97 L96.70,137.42 L96.91,136.87 L97.12,136.32 L97.33,135.78 L97.55,135.23 L97.76,134.68 L97.97,134.14 L98.18,133.59 L98.40,133.05 L98.61,132.51 L98.82,131.97 L99.03,131.43 L99.25,130.89 L99.46,130.35 L99.67,129.81 L99.88,129.28 L100.10,128.74 L100.31,128.20 L100.52,127.67 L100.73,127.14 L100.95,126.61 L101.16,126.08 L101.37,125.55 L101.58,125.02 L101.80,124.49 L102.01,123.96 L102.22,123.44 L102.43,122.92 L102.64,122.39 L102.86,121.87 L103.07,121.35 L103.28,120.83 L103.49,120.31 L103.71,119.80 L103.92,119.28 L104.13,118.77 L104.34,118.25 L104.56,117.74 L104.77,117.23 L104.98,116.72 L105.19,116.21 L105.41,115.71 L105.62,115.20 L105.83,114.70 L106.04,114.19 L106.26,113.69 L106.47,113.19 L106.68,112.69 L106.89,112.20 L107.10,111.70 L107.32,111.21 L107.53,110.71 L107.74,110.22 L107.95,109.73 L108.17,109.24 L108.38,108.75 L108.59,108.27 L108.80,107.78 L109.02,107.30 L109.23,106.82 L109.44,106.34 L109.65,105.86 L109.87,105.38 L110.08,104.91 L110.29,104.43 L110.50,103.96 L110.72,103.49 L110.93,103.02 L111.14,102.55 L111.35,102.08 L111.56,101.62 L111.78,101.16 L111.99,100.69 L112.20,100.23 L112.41,99.78 L112.63,99.32 L112.84,98.86 L113.05,98.41 L113.26,97.96 L113.48,97.51 L113.69,97.06 L113.90,96.61 L114.11,96.16 L114.33,95.72 L114.54,95.27 L114.75,94.83 L114.96,94.39 L115.18,93.96 L115.39,93.52 L115.60,93.08 L115.81,92.65 L116.03,92.22 L116.24,91.79 L116.45,91.36 L116.66,90.94 L116.87,90.51 L117.09,90.09 L117.30,89.66 L117.51,89.24 L117.72,88.83 L117.94,88.41 L118.15,87.99 L118.36,87.58 L118.57,87.17 L118.79,86.76 L119.00,86.35 L119.21,85.94 L119.42,85.54 L119.64,85.13 L119.85,84.73 L120.06,84.33 L120.27,83.93 L120.49,83.54 L120.70,83.14 L120.91,82.75 L121.12,82.36 L121.33,81.97 L121.55,81.58 L121.76,81.19 L121.97,80.80 L122.18,80.42 L122.40,80.04 L122.61,79.66 L122.82,79.28 L123.03,78.90 L123.25,78.53 L123.46,78.15 L123.67,77.78 L123.88,77.41 L124.10,77.04 L124.31,76.68 L124.52,76.31 L124.73,75.95 L124.95,75.59 L125.16,75.23 L125.37,74.87 L125.58,74.51 L125.80,74.15 L126.01,73.80 L126.22,73.45 L126.43,73.10 L126.64,72.75 L126.86,72.40 L127.07,72.06 L127.28,71.71 L127.49,71.37 L127.71,71.03 L127.92,70.69 L128.13,70.35 L128.34,70.02 L128.56,69.68 L128.77,69.35 L128.98,69.02 L129.19,68.69 L129.41,68.36 L129.62,68.03 L129.83,67.71 L130.04,67.38 L130.26,67.06 L130.47,66.74 L130.68,66.42 L130.89,66.11 L131.10,65.79 L131.32,65.48 L131.53,65.16 L131.74,64.85 L131.95,64.54 L132.17,64.24 L132.38,63.93 L132.59,63.63 L132.80,63.32 L133.02,63.02 L133.23,62.72 L133.44,62.42 L133.65,62.12 L133.87,61.83 L134.08,61.53 L134.29,61.24 L134.50,60.95 L134.72,60.66 L134.93,60.37 L135.14,60.08 L135.35,59.80 L135.56,59.51 L135.78,59.23 L135.99,58.95 L136.20,58.67 L136.41,58.39 L136.63,58.12 L136.84,57.84 L137.05,57.57 L137.26,57.29 L137.48,57.02 L137.69,56.75 L137.90,56.48 L138.11,56.22 L138.33,55.95 L138.54,55.69 L138.75,55.42 L138.96,55.16 L139.18,54.90 L139.39,54.64 L139.60,54.39 L139.81,54.13 L140.03,53.87 L140.24,53.62 L140.45,53.37 L140.66,53.12 L140.87,52.87 L141.09,52.62 L141.30,52.37 L141.51,52.13 L141.72,51.88 L141.94,51.64 L142.15,51.40 L142.36,51.16 L142.57,50.92 L142.79,50.68 L143.00,50.44 L143.21,50.21 L143.42,49.98 L143.64,49.74 L143.85,49.51 L144.41,48.90 L144.98,48.30 L145.54,47.71 L146.11,47.12 L146.67,46.55 L147.24,45.98 L147.80,45.42 L148.37,44.87 L148.93,44.32 L149.50,43.79 L150.06,43.26 L150.63,42.74 L151.19,42.23 L151.76,41.72 L152.32,41.22 L152.88,40.73 L153.45,40.25 L154.01,39.77 L154.58,39.30 L155.14,38.83 L155.71,38.38 L156.27,37.93 L156.84,37.48 L157.40,37.05 L157.97,36.62 L158.53,36.19 L159.10,35.77 L159.66,35.36 L160.23,34.95 L160.79,34.55 L161.36,34.16 L161.92,33.77 L162.49,33.39 L163.05,33.01 L163.62,32.64 L164.18,32.27 L164.75,31.91 L165.31,31.56 L165.87,31.21 L166.44,30.86 L167.00,30.52 L167.57,30.19 L168.13,29.86 L168.70,29.54 L169.26,29.22 L169.83,28.90 L170.39,28.59 L170.96,28.29 L171.52,27.99 L172.09,27.69 L172.65,27.40 L173.22,27.11 L173.78,26.83 L174.35,26.55 L174.91,26.28 L175.48,26.01 L176.04,25.74 L176.61,25.48 L177.17,25.22 L177.74,24.97 L178.30,24.72 L178.87,24.47 L179.43,24.23 L179.99,23.99 L180.56,23.76 L181.12,23.53 L181.69,23.30 L182.25,23.07 L182.82,22.85 L183.38,22.64 L183.95,22.42 L184.51,22.21 L185.08,22.00 L185.64,21.80 L186.21,21.60 L186.77,21.40 L187.34,21.20 L187.90,21.01 L188.47,20.82 L189.03,20.63 L189.60,20.45 L190.16,20.27 L190.73,20.09 L191.29,19.92 L191.86,19.74 L192.42,19.57 L192.98,19.41 L193.55,19.24 L194.11,19.08 L194.68,18.92 L195.24,18.76 L195.81,18.61 L196.37,18.46 L196.94,18.31 L197.50,18.16 L198.07,18.01 L198.63,17.87 L199.20,17.73 L199.76,17.59 L200.33,17.45 L200.89,17.32 L201.46,17.18 L202.02,17.05 L202.59,16.93 L203.15,16.80 L203.72,16.67 L204.28,16.55 L204.85,16.43 L205.41,16.31 L205.98,16.20 L206.54,16.08 L207.10,15.97 L207.67,15.85 L208.23,15.74 L208.80,15.64 L209.36,15.53 L209.93,15.43 L210.49,15.32 L211.06,15.22 L211.62,15.12 L212.19,15.02 L212.75,14.92 L213.32,14.83 L213.88,14.74 L214.45,14.64 L215.01,14.55 L215.58,14.46 L216.14,14.37 L216.71,14.29 L217.27,14.20 L217.84,14.12 L218.40,14.03 L218.97,13.95 L219.53,13.87 L220.09,13.79 L220.66,13.72 L221.22,13.64 L221.79,13.56 L222.35,13.49 L222.92,13.42 L223.48,13.35 L224.05,13.28 L224.61,13.21 L225.18,13.14 L225.74,13.07 L226.31,13.00 L226.87,12.94 L227.44,12.87 L228.00,12.81 L228.57,12.75 L229.13,12.69 L229.70,12.63 L230.26,12.57 L230.83,12.51 L231.39,12.45 L231.96,12.40 L232.52,12.34 L233.09,12.29 L233.65,12.23 L234.21,12.18 L234.78,12.13 L235.34,12.08 L235.91,12.03 L236.47,11.98 L237.04,11.93 L237.60,11.88 L238.17,11.83 L238.73,11.79 L239.30,11.74 L239.86,11.70 L240.43,11.65 L240.99,11.61 L241.56,11.57 L242.12,11.52 L242.69,11.48 L243.25,11.44 L243.82,11.40 L244.38,11.36 L244.95,11.32 L245.51,11.29 L246.08,11.25 L246.64,11.21 L247.20,11.18 L247.77,11.14 L248.33,11.10 L248.90,11.07 L249.46,11.04 L250.03,11.00 L250.59,10.97 L251.16,10.94 L251.72,10.91 L252.29,10.88 L252.85,10.84 L253.42,10.81 L253.98,10.79 L254.55,10.76 L255.11,10.73 L255.68,10.70 L256.24,10.67 L256.81,10.65 L257.37,10.62 L257.94,10.59 L258.50,10.57 L259.07,10.54 L259.63,10.52 L260.20,10.49 L260.76,10.47 L261.32,10.44 L261.89,10.42 L262.45,10.40 L263.02,10.38 L263.58,10.35 L264.15,10.33 L264.71,10.31 L265.28,10.29 L265.84,10.27 L266.41,10.25 L266.97,10.23 L267.54,10.21 L268.10,10.19 L268.67,10.17 L269.23,10.15 L269.80,10.14 L270.36,10.12 L270.93,10.10 L271.49,10.08 L272.06,10.07 L272.62,10.05 L273.19,10.03 L273.75,10.02 L274.31,10.00 L274.88,9.99 L275.44,9.97 L276.01,9.96 L276.57,9.94 L277.14,9.93 L277.70,9.92 L278.27,9.90 L278.83,9.89 L279.40,9.87 L279.96,9.86 L280.53,9.85 L281.09,9.84 L281.66,9.82 L282.22,9.81 L282.79,9.80 L283.35,9.79 L283.92,9.78 L284.48,9.77 L285.05,9.76 L285.61,9.74 L286.18,9.73 L286.74,9.72 L287.31,9.71 L287.87,9.70 L288.43,9.69 L289.00,9.68 L289.56,9.68 L290.13,9.67 L290.69,9.66 L291.26,9.65 L291.82,9.64 L292.39,9.63 L292.95,9.62 L293.52,9.61 L294.08,9.61 L294.65,9.60 L295.21,9.59 L295.78,9.58 L296.34,9.58 L296.91,9.57 L297.47,9.56 L298.04,9.55 L298.60,9.55 L299.17,9.54 L299.73,9.53 L300.30,9.53 L300.86,9.52 L301.42,9.52 L301.99,9.51 L302.55,9.50 L303.12,9.50 L303.68,9.49 L304.25,9.49 L304.81,9.48 L305.38,9.48 L305.94,9.47 L306.51,9.47 L307.07,9.46 L307.64,9.46 L308.20,9.45 L308.77,9.45 L309.33,9.44 L309.90,9.44 L310.46,9.43 L311.03,9.43 L311.59,9.42 L312.16,9.42 L312.72,9.42 L313.29,9.41 L313.85,9.41 L314.42,9.41 L314.98,9.40 L315.54,9.40 L316.11,9.39 L316.67,9.39 L317.24,9.39 L317.80,9.38 L318.37,9.38 L318.93,9.38 L319.50,9.37 L320.06,9.37 L320.63,9.37 L321.19,9.37 L321.76,9.36 L322.32,9.36 L322.89,9.36 L323.45,9.36 L324.02,9.35 L324.58,9.35 L325.15,9.35 L325.71,9.35 L326.28,9.34 L326.84,9.34 L327.41,9.34 L327.97,9.34 L328.53,9.33 L329.10,9.33 L329.66,9.33 L330.23,9.33 L330.79,9.33 L331.36,9.32 L331.92,9.32 L332.49,9.32 L333.05,9.32 L333.62,9.32 L334.18,9.32 L334.75,9.31 L335.31,9.31 L335.88,9.31 L336.44,9.31 L337.01,9.31 L337.57,9.31 L338.14,9.30 L338.70,9.30 L339.27,9.30 L339.83,9.30 L340.40,9.30 L340.96,9.30 L341.53,9.30 L342.09,9.30 L342.65,9.29 L343.22,9.29 L343.78,9.29 L344.35,9.29 L344.91,9.29 L345.48,9.29 L346.04,9.29 L346.61,9.29 L347.17,9.29 L347.74,9.29 L348.30,9.28 L348.87,9.28 L349.43,9.28 L350.00,9.28 L350.56,9.28 L351.13,9.28 L351.69,9.28 L352.26,9.28 L352.82,9.28 L353.39,9.28 L353.95,9.28 L354.52,9.28 L355.08,9.28 L355.64,9.27 L356.21,9.27 L356.77,9.27 L357.34,9.27 L357.90,9.27 L358.47,9.27 L359.03,9.27 L359.60,9.27 L360.16,9.27 L360.73,9.27 L361.29,9.27 L361.86,9.27 L362.42,9.27 L362.99,9.27 L363.55,9.27 L364.12,9.27 L364.68,9.27 L365.25,9.27 L365.81,9.27 L366.38,9.27 L366.94,9.27 L367.51,9.27 L368.07,9.26 L368.64,9.26 L369.20,9.26" stroke="#0000ff" stroke-dasharray="1.55 1.2"/>
<path d="M37.80,247.04 L38.77,247.04 L38.98,247.03 L39.19,247.00 L39.40,246.97 L39.62,246.92 L39.83,246.88 L40.04,246.82 L40.25,246.76 L40.47,246.69 L40.68,246.62 L40.89,246.54 L41.10,246.46 L41.31,246.38 L41.53,246.28 L41.74,246.19 L41.95,246.09 L42.16,245.98 L42.38,245.87 L42.59,245.76 L42.80,245.64 L43.01,245.52 L43.23,245.39 L43.44,245.26 L43.65,245.13 L43.86,244.99 L44.08,244.85 L44.29,244.70 L44.50,244.55 L44.71,244.40 L44.93,244.24 L45.14,244.08 L45.35,243.92 L45.56,243.75 L45.78,243.58 L45.99,243.41 L46.20,243.23 L46.41,243.05 L46.62,242.87 L46.84,242.68 L47.05,242.49 L47.26,242.29 L47.47,242.10 L47.69,241.90 L47.90,241.69 L48.11,241.49 L48.32,241.28 L48.54,241.07 L48.75,240.85 L48.96,240.63 L49.17,240.41 L49.39,240.19 L49.60,239.96 L49.81,239.73 L50.02,239.50 L50.24,239.26 L50.45,239.02 L50.66,238.78 L50.87,238.54 L51.08,238.29 L51.30,238.04 L51.51,237.79 L51.72,237.54 L51.93,237.28 L52.15,237.02 L52.36,236.75 L52.57,236.49 L52.78,236.22 L53.00,235.95 L53.21,235.68 L53.42,235.40 L53.63,235.12 L53.85,234.84 L54.06,234.56 L54.27,234.27 L54.48,233.99 L54.70,233.70 L54.91,233.40 L55.12,233.11 L55.33,232.81 L55.54,232.51 L55.76,232.21 L55.97,231.90 L56.18,231.60 L56.39,231.29 L56.61,230.98 L56.82,230.66 L57.03,230.35 L57.24,230.03 L57.46,229.71 L57.67,229.39 L57.88,229.06 L58.09,228.74 L58.31,228.41 L58.52,228.08 L58.73,227.75 L58.94,227.41 L59.16,227.07 L59.37,226.74 L59.58,226.40 L59.79,226.05 L60.01,225.71 L60.22,225.36 L60.43,225.01 L60.64,224.66 L60.85,224.31 L61.07,223.96 L61.28,223.60 L61.49,223.24 L61.70,222.88 L61.92,222.52 L62.13,222.16 L62.34,221.79 L62.55,221.43 L62.77,221.06 L62.98,220.69 L63.19,220.32 L63.40,219.94 L63.62,219.57 L63.83,219.19 L64.04,218.81 L64.25,218.43 L64.47,218.05 L64.68,217.67 L64.89,217.29 L65.10,216.90 L65.31,216.51 L65.53,216.12 L65.74,215.73 L65.95,215.34 L66.16,214.95 L66.38,214.55 L66.59,214.15 L66.80,213.76 L67.01,213.36 L67.22,212.96 L67.44,212.55 L67.65,212.15 L67.86,211.75 L68.07,211.34 L68.28,210.93 L68.49,210.52 L68.70,210.11 L68.91,209.70 L69.11,209.29 L69.32,208.88 L69.53,208.46 L69.74,208.05 L69.95,207.63 L70.15,207.21 L70.36,206.79 L70.57,206.37 L70.77,205.95 L70.98,205.53 L71.19,205.10 L71.39,204.68 L71.60,204.25 L71.80,203.83 L72.01,203.40 L72.21,202.97 L72.42,202.54 L72.62,202.11 L72.83,201.68 L73.03,201.25 L73.23,200.81 L73.44,200.38 L73.64,199.94 L73.84,199.51 L74.05,199.07 L74.25,198.63 L74.45,198.19 L74.65,197.75 L74.86,197.31 L75.06,196.87 L75.26,196.43 L75.46,195.99 L75.66,195.54 L75.87,195.10 L76.07,194.66 L76.27,194.21 L76.47,193.76 L76.67,193.32 L76.87,192.87 L77.07,192.42 L77.27,191.97 L77.47,191.52 L77.68,191.08 L77.88,190.62 L78.08,190.17 L78.28,189.72 L78.48,189.27 L78.68,188.82 L78.88,188.37 L79.08,187.91 L79.28,187.46 L79.48,187.00 L79.68,186.55 L79.88,186.09 L80.08,185.64 L80.28,185.18 L80.48,184.72 L80.68,184.27 L80.88,183.81 L81.08,183.35 L81.29,182.90 L81.49,182.44 L81.69,181.98 L81.89,181.52 L82.09,181.06 L82.29,180.60 L82.49,180.14 L82.69,179.68 L82.90,179.22 L83.10,178.76 L83.30,178.30 L83.50,177.84 L83.71,177.38 L83.91,176.92 L84.11,176.46 L84.31,176.00 L84.52,175.53 L84.72,175.07 L84.92,174.61 L85.13,174.15 L85.33,173.69 L85.54,173.22 L85.74,172.76 L85.95,172.30 L86.15,171.84 L86.36,171.38 L86.56,170.91 L86.77,170.45 L86.98,169.99 L87.18,169.53 L87.39,169.07 L87.60,168.60 L87.80,168.14 L88.01,167.68 L88.22,167.22 L88.43,166.76 L88.64,166.29 L88.85,165.83 L89.06,165.37 L89.27,164.91 L89.48,164.45 L89.69,163.99 L89.90,163.53 L90.11,163.07 L90.33,162.61 L90.54,162.15 L90.75,161.69 L90.96,161.23 L91.18,160.77 L91.39,160.31 L91.60,159.85 L91.81,159.39 L92.03,158.93 L92.24,158.47 L92.45,158.01 L92.66,157.56 L92.87,157.10 L93.09,156.64 L93.30,156.19 L93.51,155.73 L93.72,155.27 L93.94,154.82 L94.15,154.36 L94.36,153.91 L94.57,153.45 L94.79,153.00 L95.00,152.54 L95.21,152.09 L95.42,151.64 L95.64,151.18 L95.85,150.73 L96.06,150.28 L96.27,149.83 L96.49,149.38 L96.70,148.93 L96.91,148.48 L97.12,148.03 L97.33,147.58 L97.55,147.13 L97.76,146.68 L97.97,146.24 L98.18,145.79 L98.40,145.34 L98.61,144.90 L98.82,144.45 L99.03,144.01 L99.25,143.56 L99.46,143.12 L99.67,142.68 L99.88,142.24 L100.10,141.79 L100.31,141.35 L100.52,140.91 L100.73,140.47 L100.95,140.03 L101.16,139.59 L101.37,139.16 L101.58,138.72 L101.80,138.28 L102.01,137.85 L102.22,137.41 L102.43,136.98 L102.64,136.54 L102.86,136.11 L103.07,135.67 L103.28,135.24 L103.49,134.81 L103.71,134.38 L103.92,133.95 L104.13,133.52 L104.34,133.09 L104.56,132.66 L104.77,132.24 L104.98,131.81 L105.19,131.39 L105.41,130.96 L105.62,130.54 L105.83,130.11 L106.04,129.69 L106.26,129.27 L106.47,128.85 L106.68,128.43 L106.89,128.01 L107.10,127.59 L107.32,127.17 L107.53,126.75 L107.74,126.34 L107.95,125.92 L108.17,125.51 L108.38,125.09 L108.59,124.68 L108.80,124.27 L109.02,123.86 L109.23,123.44 L109.44,123.03 L109.65,122.63 L109.87,122.22 L110.08,121.81 L110.29,121.40 L110.50,121.00 L110.72,120.59 L110.93,120.19 L111.14,119.79 L111.35,119.38 L111.56,118.98 L111.78,118.58 L111.99,118.18 L112.20,117.78 L112.41,117.39 L112.63,116.99 L112.84,116.59 L113.05,116.20 L113.26,115.80 L113.48,115.41 L113.69,115.02 L113.90,114.63 L114.11,114.24 L114.33,113.85 L114.54,113.46 L114.75,113.07 L114.96,112.68 L115.18,112.30 L115.39,111.91 L115.60,111.53 L115.81,111.15 L116.03,110.76 L116.24,110.38 L116.45,110.00 L116.66,109.62 L116.87,109.24 L117.09,108.87 L117.30,108.49 L117.51,108.11 L117.72,107.74 L117.94,107.36 L118.15,106.99 L118.36,106.62 L118.57,106.25 L118.79,105.88 L119.00,105.51 L119.21,105.14 L119.42,104.78 L119.64,104.41 L119.85,104.04 L120.06,103.68 L120.27,103.32 L120.49,102.96 L120.70,102.59 L120.91,102.23 L121.12,101.87 L121.33,101.52 L121.55,101.16 L121.76,100.80 L121.97,100.45 L122.18,100.10 L122.40,99.74 L122.61,99.39 L122.82,99.04 L123.03,98.69 L123.25,98.34 L123.46,97.99 L123.67,97.65 L123.88,97.30 L124.10,96.96 L124.31,96.61 L124.52,96.27 L124.73,95.93 L124.95,95.59 L125.16,95.25 L125.37,94.91 L125.58,94.58 L125.80,94.24 L126.01,93.90 L126.22,93.57 L126.43,93.24 L126.64,92.90 L126.86,92.57 L127.07,92.24 L127.28,91.91 L127.49,91.59 L127.71,91.26 L127.92,90.93 L128.13,90.61 L128.34,90.29 L128.56,89.96 L128.77,89.64 L128.98,89.32 L129.19,89.00 L129.41,88.68 L129.62,88.36 L129.83,88.05 L130.04,87.73 L130.26,87.42 L130.47,87.10 L130.68,86.79 L130.89,86.48 L131.10,86.17 L131.32,85.86 L131.53,85.55 L131.74,85.24 L131.95,84.94 L132.17,84.63 L132.38,84.33 L132.59,84.02 L132.80,83.72 L133.02,83.42 L133.23,83.12 L133.44,82.82 L133.65,82.52 L133.87,82.23 L134.08,81.93 L134.29,81.63 L134.50,81.34 L134.72,81.05 L134.93,80.75 L135.14,80.46 L135.35,80.17 L135.56,79.88 L135.78,79.59 L135.99,79.31 L136.20,79.02 L136.41,78.74 L136.63,78.45 L136.84,78.17 L137.05,77.89 L137.26,77.60 L137.48,77.32 L137.69,77.04 L137.90,76.77 L138.11,76.49 L138.33,76.21 L138.54,75.94 L138.75,75.66 L138.96,75.39 L139.18,75.11 L139.39,74.84 L139.60,74.57 L139.81,74.30 L140.03,74.03 L140.24,73.77 L140.45,73.50 L140.66,73.23 L140.87,72.97 L141.09,72.70 L141.30,72.44 L141.51,72.18 L141.72,71.92 L141.94,71.66 L142.15,71.40 L142.36,71.14 L142.57,70.88 L142.79,70.62 L143.00,70.37 L143.21,70.11 L143.42,69.86 L143.64,69.61 L143.85,69.35 L144.41,68.69 L144.98,68.03 L145.54,67.38 L146.11,66.73 L146.67,66.09 L147.24,65.45 L147.80,64.83 L148.37,64.20 L148.93,63.59 L149.50,62.98 L150.06,62.37 L150.63,61.78 L151.19,61.19 L151.76,60.60 L152.32,60.02 L152.88,59.44 L153.45,58.87 L154.01,58.31 L154.58,57.75 L155.14,57.20 L155.71,56.65 L156.27,56.11 L156.84,55.58 L157.40,55.05 L157.97,54.52 L158.53,54.00 L159.10,53.48 L159.66,52.97 L160.23,52.47 L160.79,51.97 L161.36,51.47 L161.92,50.98 L162.49,50.50 L163.05,50.02 L163.62,49.54 L164.18,49.08 L164.75,48.61 L165.31,48.15 L165.87,47.70 L166.44,47.25 L167.00,46.81 L167.57,46.37 L168.13,45.93 L168.70,45.50 L169.26,45.08 L169.83,44.66 L170.39,44.24 L170.96,43.83 L171.52,43.43 L172.09,43.03 L172.65,42.63 L173.22,42.23 L173.78,41.85 L174.35,41.46 L174.91,41.08 L175.48,40.71 L176.04,40.34 L176.61,39.97 L177.17,39.61 L177.74,39.25 L178.30,38.89 L178.87,38.54 L179.43,38.19 L179.99,37.85 L180.56,37.51 L181.12,37.18 L181.69,36.85 L182.25,36.52 L182.82,36.19 L183.38,35.87 L183.95,35.56 L184.51,35.24 L185.08,34.93 L185.64,34.63 L186.21,34.33 L186.77,34.03 L187.34,33.73 L187.90,33.44 L188.47,33.15 L189.03,32.87 L189.60,32.58 L190.16,32.30 L190.73,32.03 L191.29,31.76 L191.86,31.49 L192.42,31.22 L192.98,30.96 L193.55,30.70 L194.11,30.44 L194.68,30.19 L195.24,29.93 L195.81,29.69 L196.37,29.44 L196.94,29.20 L197.50,28.96 L198.07,28.72 L198.63,28.49 L199.20,28.25 L199.76,28.02 L200.33,27.80 L200.89,27.57 L201.46,27.35 L202.02,27.13 L202.59,26.92 L203.15,26.70 L203.72,26.49 L204.28,26.28 L204.85,26.08 L205.41,25.87 L205.98,25.67 L206.54,25.47 L207.10,25.28 L207.67,25.08 L208.23,24.89 L208.80,24.70 L209.36,24.51 L209.93,24.32 L210.49,24.14 L211.06,23.96 L211.62,23.78 L212.19,23.60 L212.75,23.43 L213.32,23.25 L213.88,23.08 L214.45,22.91 L215.01,22.75 L215.58,22.58 L216.14,22.42 L216.71,22.26 L217.27,22.10 L217.84,21.94 L218.40,21.78 L218.97,21.63 L219.53,21.48 L220.09,21.33 L220.66,21.18 L221.22,21.03 L221.79,20.89 L222.35,20.74 L222.92,20.60 L223.48,20.46 L224.05,20.32 L224.61,20.19 L225.18,20.05 L225.74,19.92 L226.31,19.79 L226.87,19.66 L227.44,19.53 L228.00,19.40 L228.57,19.28 L229.13,19.15 L229.70,19.03 L230.26,18.91 L230.83,18.79 L231.39,18.67 L231.96,18.55 L232.52,18.44 L233.09,18.32 L233.65,18.21 L234.21,18.10 L234.78,17.99 L235.34,17.88 L235.91,17.78 L236.47,17.67 L237.04,17.57 L237.60,17.46 L238.17,17.36 L238.73,17.26 L239.30,17.16 L239.86,17.06 L240.43,16.96 L240.99,16.87 L241.56,16.77 L242.12,16.68 L242.69,16.59 L243.25,16.50 L243.82,16.41 L244.38,16.32 L244.95,16.23 L245.51,16.14 L246.08,16.06 L246.64,15.97 L247.20,15.89 L247.77,15.81 L248.33,15.73 L248.90,15.65 L249.46,15.57 L250.03,15.49 L250.59,15.41 L251.16,15.34 L251.72,15.26 L252.29,15.19 L252.85,15.11 L253.42,15.04 L253.98,14.97 L254.55,14.90 L255.11,14.83 L255.68,14.76 L256.24,14.69 L256.81,14.62 L257.37,14.56 L257.94,14.49 L258.50,14.43 L259.07,14.36 L259.63,14.30 L260.20,14.24 L260.76,14.18 L261.32,14.12 L261.89,14.06 L262.45,14.00 L263.02,13.94 L263.58,13.88 L264.15,13.82 L264.71,13.77 L265.28,13.71 L265.84,13.66 L266.41,13.60 L266.97,13.55 L267.54,13.50 L268.10,13.44 L268.67,13.39 L269.23,13.34 L269.80,13.29 L270.36,13.24 L270.93,13.19 L271.49,13.15 L272.06,13.10 L272.62,13.05 L273.19,13.01 L273.75,12.96 L274.31,12.91 L274.88,12.87 L275.44,12.83 L276.01,12.78 L276.57,12.74 L277.14,12.70 L277.70,12.66 L278.27,12.61 L278.83,12.57 L279.40,12.53 L279.96,12.49 L280.53,12.45 L281.09,12.42 L281.66,12.38 L282.22,12.34 L282.79,12.30 L283.35,12.27 L283.92,12.23 L284.48,12.19 L285.05,12.16 L285.61,12.12 L286.18,12.09 L286.74,12.05 L287.31,12.02 L287.87,11.99 L288.43,11.96 L289.00,11.92 L289.56,11.89 L290.13,11.86 L290.69,11.83 L291.26,11.80 L291.82,11.77 L292.39,11.74 L292.95,11.71 L293.52,11.68 L294.08,11.65 L294.65,11.62 L295.21,11.59 L295.78,11.57 L296.34,11.54 L296.91,11.51 L297.47,11.48 L298.04,11.46 L298.60,11.43 L299.17,11.41 L299.73,11.38 L300.30,11.36 L300.86,11.33 L301.42,11.31 L301.99,11.28 L302.55,11.26 L303.12,11.24 L303.68,11.21 L304.25,11.19 L304.81,11.17 L305.38,11.14 L305.94,11.12 L306.51,11.10 L307.07,11.08 L307.64,11.06 L308.20,11.04 L308.77,11.02 L309.33,11.00 L309.90,10.98 L310.46,10.96 L311.03,10.94 L311.59,10.92 L312.16,10.90 L312.72,10.88 L313.29,10.86 L313.85,10.84 L314.42,10.82 L314.98,10.81 L315.54,10.79 L316.11,10.77 L316.67,10.75 L317.24,10.74 L317.80,10.72 L318.37,10.70 L318.93,10.69 L319.50,10.67 L320.06,10.65 L320.63,10.64 L321.19,10.62 L321.76,10.61 L322.32,10.59 L322.89,10.58 L323.45,10.56 L324.02,10.55 L324.58,10.53 L325.15,10.52 L325.71,10.51 L326.28,10.49 L326.84,10.48 L327.41,10.46 L327.97,10.45 L328.53,10.44 L329.10,10.42 L329.66,10.41 L330.23,10.40 L330.79,10.39 L331.36,10.37 L331.92,10.36 L332.49,10.35 L333.05,10.34 L333.62,10.33 L334.18,10.32 L334.75,10.30 L335.31,10.29 L335.88,10.28 L336.44,10.27 L337.01,10.26 L337.57,10.25 L338.14,10.24 L338.70,10.23 L339.27,10.22 L339.83,10.21 L340.40,10.20 L340.96,10.19 L341.53,10.18 L342.09,10.17 L342.65,10.16 L343.22,10.15 L343.78,10.14 L344.35,10.13 L344.91,10.12 L345.48,10.11 L346.04,10.10 L346.61,10.09 L347.17,10.09 L347.74,10.08 L348.30,10.07 L348.87,10.06 L349.43,10.05 L350.00,10.04 L350.56,10.04 L351.13,10.03 L351.69,10.02 L352.26,10.01 L352.82,10.01 L353.39,10.00 L353.95,9.99 L354.52,9.98 L355.08,9.98 L355.64,9.97 L356.21,9.96 L356.77,9.96 L357.34,9.95 L357.90,9.94 L358.47,9.94 L359.03,9.93 L359.60,9.92 L360.16,9.92 L360.73,9.91 L361.29,9.90 L361.86,9.90 L362.42,9.89 L362.99,9.88 L363.55,9.88 L364.12,9.87 L364.68,9.87 L365.25,9.86 L365.81,9.86 L366.38,9.85 L366.94,9.85 L367.51,9.84 L368.07,9.83 L368.64,9.83 L369.20,9.82" stroke="#ff00ff" stroke-dasharray="0.85 0.5"/>
<path d="M37.80,247.04 L38.77,247.04 L38.98,247.03 L39.19,247.01 L39.40,246.98 L39.62,246.94 L39.83,246.90 L40.04,246.85 L40.25,246.80 L40.47,246.73 L40.68,246.67 L40.89,246.59 L41.10,246.52 L41.31,246.43 L41.53,246.35 L41.74,246.25 L41.95,246.15 L42.16,246.05 L42.38,245.94 L42.59,245.83 L42.80,245.72 L43.01,245.60 L43.23,245.47 L43.44,245.34 L43.65,245.21 L43.86,245.07 L44.08,244.93 L44.29,244.79 L44.50,244.64 L44.71,244.48 L44.93,244.33 L45.14,244.16 L45.35,244.00 L45.56,243.83 L45.78,243.66 L45.99,243.48 L46.20,243.30 L46.41,243.12 L46.62,242.94 L46.84,242.75 L47.05,242.55 L47.26,242.36 L47.47,242.16 L47.69,241.95 L47.90,241.75 L48.11,241.54 L48.32,241.33 L48.54,241.11 L48.75,240.89 L48.96,240.67 L49.17,240.44 L49.39,240.21 L49.60,239.98 L49.81,239.75 L50.02,239.51 L50.24,239.27 L50.45,239.03 L50.66,238.78 L50.87,238.54 L51.08,238.28 L51.30,238.03 L51.51,237.77 L51.72,237.51 L51.93,237.25 L52.15,236.99 L52.36,236.72 L52.57,236.45 L52.78,236.18 L53.00,235.90 L53.21,235.63 L53.42,235.35 L53.63,235.06 L53.85,234.78 L54.06,234.49 L54.27,234.20 L54.48,233.91 L54.70,233.62 L54.91,233.32 L55.12,233.02 L55.33,232.72 L55.54,232.42 L55.76,232.11 L55.97,231.81 L56.18,231.50 L56.39,231.18 L56.61,230.87 L56.82,230.55 L57.03,230.24 L57.24,229.92 L57.46,229.60 L57.67,229.27 L57.88,228.95 L58.09,228.62 L58.31,228.29 L58.52,227.96 L58.73,227.62 L58.94,227.29 L59.16,226.95 L59.37,226.61 L59.58,226.27 L59.79,225.93 L60.01,225.59 L60.22,225.24 L60.43,224.89 L60.64,224.54 L60.85,224.19 L61.07,223.84 L61.28,223.49 L61.49,223.13 L61.70,222.78 L61.92,222.42 L62.13,222.06 L62.34,221.70 L62.55,221.33 L62.77,220.97 L62.98,220.60 L63.19,220.24 L63.40,219.87 L63.62,219.50 L63.83,219.13 L64.04,218.75 L64.25,218.38 L64.47,218.01 L64.68,217.63 L64.89,217.25 L65.10,216.87 L65.31,216.49 L65.53,216.11 L65.74,215.73 L65.95,215.35 L66.16,214.96 L66.38,214.57 L66.59,214.19 L66.80,213.80 L67.01,213.41 L67.22,213.02 L67.44,212.63 L67.65,212.24 L67.86,211.84 L68.07,211.45 L68.28,211.05 L68.49,210.66 L68.70,210.26 L68.91,209.86 L69.12,209.46 L69.32,209.06 L69.53,208.66 L69.74,208.26 L69.95,207.86 L70.16,207.46 L70.36,207.05 L70.57,206.65 L70.78,206.24 L70.99,205.84 L71.19,205.43 L71.40,205.02 L71.60,204.62 L71.81,204.21 L72.02,203.80 L72.22,203.39 L72.43,202.98 L72.63,202.56 L72.84,202.15 L73.04,201.74 L73.24,201.33 L73.45,200.91 L73.65,200.50 L73.86,200.08 L74.06,199.67 L74.26,199.25 L74.47,198.83 L74.67,198.42 L74.87,198.00 L75.08,197.58 L75.28,197.16 L75.48,196.75 L75.68,196.33 L75.89,195.91 L76.09,195.49 L76.29,195.07 L76.49,194.65 L76.69,194.23 L76.90,193.80 L77.10,193.38 L77.30,192.96 L77.50,192.54 L77.70,192.12 L77.90,191.69 L78.10,191.27 L78.31,190.85 L78.51,190.42 L78.71,190.00 L78.91,189.58 L79.11,189.15 L79.31,188.73 L79.51,188.30 L79.72,187.88 L79.92,187.45 L80.12,187.03 L80.32,186.60 L80.52,186.18 L80.72,185.75 L80.92,185.33 L81.12,184.90 L81.33,184.48 L81.53,184.05 L81.73,183.62 L81.93,183.20 L82.13,182.77 L82.33,182.35 L82.54,181.92 L82.74,181.50 L82.94,181.07 L83.14,180.64 L83.34,180.22 L83.55,179.79 L83.75,179.37 L83.95,178.94 L84.16,178.52 L84.36,178.09 L84.56,177.67 L84.76,177.24 L84.97,176.82 L85.17,176.39 L85.38,175.97 L85.58,175.54 L85.78,175.12 L85.99,174.69 L86.19,174.27 L86.40,173.84 L86.60,173.42 L86.81,173.00 L87.01,172.57 L87.22,172.15 L87.42,171.73 L87.63,171.30 L87.84,170.88 L88.04,170.46 L88.25,170.04 L88.46,169.62 L88.67,169.19 L88.87,168.77 L89.08,168.35 L89.29,167.93 L89.50,167.51 L89.71,167.09 L89.92,166.67 L90.13,166.25 L90.34,165.83 L90.55,165.41 L90.76,164.99 L90.97,164.58 L91.18,164.16 L91.39,163.74 L91.60,163.32 L91.81,162.91 L92.03,162.49 L92.24,162.07 L92.45,161.66 L92.66,161.24 L92.87,160.83 L93.09,160.41 L93.30,160.00 L93.51,159.59 L93.72,159.17 L93.94,158.76 L94.15,158.35 L94.36,157.94 L94.57,157.52 L94.79,157.11 L95.00,156.70 L95.21,156.29 L95.42,155.88 L95.64,155.47 L95.85,155.07 L96.06,154.66 L96.27,154.25 L96.49,153.84 L96.70,153.44 L96.91,153.03 L97.12,152.62 L97.33,152.22 L97.55,151.82 L97.76,151.41 L97.97,151.01 L98.18,150.60 L98.40,150.20 L98.61,149.80 L98.82,149.40 L99.03,149.00 L99.25,148.60 L99.46,148.20 L99.67,147.80 L99.88,147.40 L100.10,147.00 L100.31,146.61 L100.52,146.21 L100.73,145.81 L100.95,145.42 L101.16,145.02 L101.37,144.63 L101.58,144.24 L101.80,143.84 L102.01,143.45 L102.22,143.06 L102.43,142.67 L102.64,142.28 L102.86,141.89 L103.07,141.50 L103.28,141.11 L103.49,140.72 L103.71,140.33 L103.92,139.95 L104.13,139.56 L104.34,139.18 L104.56,138.79 L104.77,138.41 L104.98,138.02 L105.19,137.64 L105.41,137.26 L105.62,136.88 L105.83,136.50 L106.04,136.12 L106.26,135.74 L106.47,135.36 L106.68,134.98 L106.89,134.60 L107.10,134.23 L107.32,133.85 L107.53,133.48 L107.74,133.10 L107.95,132.73 L108.17,132.35 L108.38,131.98 L108.59,131.61 L108.80,131.24 L109.02,130.87 L109.23,130.50 L109.44,130.13 L109.65,129.76 L109.87,129.40 L110.08,129.03 L110.29,128.66 L110.50,128.30 L110.72,127.93 L110.93,127.57 L111.14,127.21 L111.35,126.85 L111.56,126.48 L111.78,126.12 L111.99,125.76 L112.20,125.40 L112.41,125.05 L112.63,124.69 L112.84,124.33 L113.05,123.97 L113.26,123.62 L113.48,123.26 L113.69,122.91 L113.90,122.56 L114.11,122.20 L114.33,121.85 L114.54,121.50 L114.75,121.15 L114.96,120.80 L115.18,120.45 L115.39,120.11 L115.60,119.76 L115.81,119.41 L116.03,119.07 L116.24,118.72 L116.45,118.38 L116.66,118.03 L116.87,117.69 L117.09,117.35 L117.30,117.01 L117.51,116.67 L117.72,116.33 L117.94,115.99 L118.15,115.65 L118.36,115.32 L118.57,114.98 L118.79,114.64 L119.00,114.31 L119.21,113.98 L119.42,113.64 L119.64,113.31 L119.85,112.98 L120.06,112.65 L120.27,112.32 L120.49,111.99 L120.70,111.66 L120.91,111.33 L121.12,111.01 L121.33,110.68 L121.55,110.36 L121.76,110.03 L121.97,109.71 L122.18,109.39 L122.40,109.07 L122.61,108.75 L122.82,108.43 L123.03,108.11 L123.25,107.79 L123.46,107.47 L123.67,107.16 L123.88,106.84 L124.10,106.53 L124.31,106.21 L124.52,105.90 L124.73,105.59 L124.95,105.28 L125.16,104.97 L125.37,104.66 L125.58,104.35 L125.80,104.04 L126.01,103.73 L126.22,103.43 L126.43,103.12 L126.64,102.82 L126.86,102.51 L127.07,102.21 L127.28,101.91 L127.49,101.61 L127.71,101.31 L127.92,101.01 L128.13,100.71 L128.34,100.41 L128.56,100.12 L128.77,99.82 L128.98,99.53 L129.19,99.23 L129.41,98.94 L129.62,98.65 L129.83,98.35 L130.04,98.06 L130.26,97.77 L130.47,97.48 L130.68,97.19 L130.89,96.91 L131.10,96.62 L131.32,96.33 L131.53,96.05 L131.74,95.77 L131.95,95.48 L132.17,95.20 L132.38,94.92 L132.59,94.64 L132.80,94.36 L133.02,94.08 L133.23,93.80 L133.44,93.52 L133.65,93.24 L133.87,92.97 L134.08,92.69 L134.29,92.42 L134.50,92.14 L134.72,91.87 L134.93,91.60 L135.14,91.33 L135.35,91.06 L135.56,90.79 L135.78,90.52 L135.99,90.25 L136.20,89.98 L136.41,89.72 L136.63,89.45 L136.84,89.19 L137.05,88.92 L137.26,88.66 L137.48,88.40 L137.69,88.14 L137.90,87.88 L138.11,87.62 L138.33,87.36 L138.54,87.10 L138.75,86.84 L138.96,86.58 L139.18,86.33 L139.39,86.07 L139.60,85.82 L139.81,85.56 L140.03,85.31 L140.24,85.06 L140.45,84.81 L140.66,84.56 L140.87,84.31 L141.09,84.06 L141.30,83.81 L141.51,83.56 L141.72,83.31 L141.94,83.07 L142.15,82.82 L142.36,82.58 L142.57,82.33 L142.79,82.09 L143.00,81.85 L143.21,81.61 L143.42,81.37 L143.64,81.13 L143.85,80.89 L144.41,80.25 L144.98,79.63 L145.54,79.00 L146.11,78.39 L146.67,77.78 L147.24,77.17 L147.80,76.57 L148.37,75.97 L148.93,75.38 L149.50,74.79 L150.06,74.21 L150.63,73.63 L151.19,73.06 L151.76,72.49 L152.32,71.93 L152.88,71.37 L153.45,70.81 L154.01,70.27 L154.58,69.72 L155.14,69.18 L155.71,68.64 L156.27,68.11 L156.84,67.58 L157.40,67.06 L157.97,66.54 L158.53,66.02 L159.10,65.51 L159.66,65.00 L160.23,64.50 L160.79,64.00 L161.36,63.50 L161.92,63.01 L162.49,62.52 L163.05,62.04 L163.62,61.56 L164.18,61.09 L164.75,60.62 L165.31,60.15 L165.87,59.69 L166.44,59.23 L167.00,58.78 L167.57,58.33 L168.13,57.89 L168.70,57.45 L169.26,57.01 L169.83,56.58 L170.39,56.15 L170.96,55.72 L171.52,55.30 L172.09,54.88 L172.65,54.47 L173.22,54.06 L173.78,53.66 L174.35,53.25 L174.91,52.85 L175.48,52.46 L176.04,52.07 L176.61,51.68 L177.17,51.30 L177.74,50.91 L178.30,50.54 L178.87,50.16 L179.43,49.79 L179.99,49.42 L180.56,49.06 L181.12,48.70 L181.69,48.34 L182.25,47.99 L182.82,47.64 L183.38,47.29 L183.95,46.94 L184.51,46.60 L185.08,46.26 L185.64,45.93 L186.21,45.59 L186.77,45.26 L187.34,44.94 L187.90,44.61 L188.47,44.29 L189.03,43.97 L189.60,43.66 L190.16,43.34 L190.73,43.03 L191.29,42.72 L191.86,42.42 L192.42,42.12 L192.98,41.82 L193.55,41.52 L194.11,41.22 L194.68,40.93 L195.24,40.64 L195.81,40.35 L196.37,40.07 L196.94,39.79 L197.50,39.50 L198.07,39.23 L198.63,38.95 L199.20,38.68 L199.76,38.41 L200.33,38.14 L200.89,37.87 L201.46,37.61 L202.02,37.34 L202.59,37.08 L203.15,36.83 L203.72,36.57 L204.28,36.32 L204.85,36.07 L205.41,35.82 L205.98,35.57 L206.54,35.32 L207.10,35.08 L207.67,34.84 L208.23,34.60 L208.80,34.36 L209.36,34.13 L209.93,33.89 L210.49,33.66 L211.06,33.43 L211.62,33.20 L212.19,32.98 L212.75,32.75 L213.32,32.53 L213.88,32.31 L214.45,32.09 L215.01,31.88 L215.58,31.66 L216.14,31.45 L216.71,31.24 L217.27,31.03 L217.84,30.82 L218.40,30.61 L218.97,30.41 L219.53,30.21 L220.09,30.01 L220.66,29.81 L221.22,29.61 L221.79,29.42 L222.35,29.22 L222.92,29.03 L223.48,28.84 L224.05,28.65 L224.61,28.46 L225.18,28.28 L225.74,28.10 L226.31,27.91 L226.87,27.73 L227.44,27.55 L228.00,27.38 L228.57,27.20 L229.13,27.03 L229.70,26.86 L230.26,26.69 L230.83,26.52 L231.39,26.35 L231.96,26.18 L232.52,26.02 L233.09,25.86 L233.65,25.70 L234.21,25.54 L234.78,25.38 L235.34,25.22 L235.91,25.07 L236.47,24.91 L237.04,24.76 L237.60,24.61 L238.17,24.46 L238.73,24.31 L239.30,24.17 L239.86,24.02 L240.43,23.88 L240.99,23.74 L241.56,23.60 L242.12,23.46 L242.69,23.32 L243.25,23.19 L243.82,23.05 L244.38,22.92 L244.95,22.79 L245.51,22.65 L246.08,22.53 L246.64,22.40 L247.20,22.27 L247.77,22.15 L248.33,22.02 L248.90,21.90 L249.46,21.78 L250.03,21.66 L250.59,21.54 L251.16,21.42 L251.72,21.30 L252.29,21.19 L252.85,21.08 L253.42,20.96 L253.98,20.85 L254.55,20.74 L255.11,20.63 L255.68,20.52 L256.24,20.42 L256.81,20.31 L257.37,20.21 L257.94,20.10 L258.50,20.00 L259.07,19.90 L259.63,19.80 L260.20,19.70 L260.76,19.60 L261.32,19.50 L261.89,19.41 L262.45,19.31 L263.02,19.22 L263.58,19.12 L264.15,19.03 L264.71,18.94 L265.28,18.85 L265.84,18.76 L266.41,18.67 L266.97,18.59 L267.54,18.50 L268.10,18.41 L268.67,18.33 L269.23,18.25 L269.80,18.16 L270.36,18.08 L270.93,18.00 L271.49,17.92 L272.06,17.84 L272.62,17.76 L273.19,17.68 L273.75,17.61 L274.31,17.53 L274.88,17.46 L275.44,17.38 L276.01,17.31 L276.57,17.23 L277.14,17.16 L277.70,17.09 L278.27,17.02 L278.83,16.95 L279.40,16.88 L279.96,16.81 L280.53,16.74 L281.09,16.68 L281.66,16.61 L282.22,16.54 L282.79,16.48 L283.35,16.41 L283.92,16.35 L284.48,16.28 L285.05,16.22 L285.61,16.16 L286.18,16.10 L286.74,16.04 L287.31,15.98 L287.87,15.92 L288.43,15.86 L289.00,15.80 L289.56,15.74 L290.13,15.68 L290.69,15.63 L291.26,15.57 L291.82,15.52 L292.39,15.46 L292.95,15.41 L293.52,15.35 L294.08,15.30 L294.65,15.24 L295.21,15.19 L295.78,15.14 L296.34,15.09 L296.91,15.04 L297.47,14.99 L298.04,14.94 L298.60,14.89 L299.17,14.84 L299.73,14.79 L300.30,14.74 L300.86,14.69 L301.42,14.64 L301.99,14.60 L302.55,14.55 L303.12,14.51 L303.68,14.46 L304.25,14.41 L304.81,14.37 L305.38,14.32 L305.94,14.28 L306.51,14.24 L307.07,14.19 L307.64,14.15 L308.20,14.11 L308.77,14.06 L309.33,14.02 L309.90,13.98 L310.46,13.94 L311.03,13.90 L311.59,13.86 L312.16,13.82 L312.72,13.78 L313.29,13.74 L313.85,13.70 L314.42,13.66 L314.98,13.62 L315.54,13.58 L316.11,13.54 L316.67,13.51 L317.24,13.47 L317.80,13.43 L318.37,13.40 L318.93,13.36 L319.50,13.32 L320.06,13.29 L320.63,13.25 L321.19,13.21 L321.76,13.18 L322.32,13.14 L322.89,13.11 L323.45,13.07 L324.02,13.04 L324.58,13.01 L325.15,12.97 L325.71,12.94 L326.28,12.91 L326.84,12.87 L327.41,12.84 L327.97,12.81 L328.53,12.77 L329.10,12.74 L329.66,12.71 L330.23,12.68 L330.79,12.65 L331.36,12.62 L331.92,12.58 L332.49,12.55 L333.05,12.52 L333.62,12.49 L334.18,12.46 L334.75,12.43 L335.31,12.40 L335.88,12.37 L336.44,12.34 L337.01,12.31 L337.57,12.29 L338.14,12.26 L338.70,12.23 L339.27,12.20 L339.83,12.17 L340.40,12.14 L340.96,12.12 L341.53,12.09 L342.09,12.06 L342.65,12.03 L343.22,12.01 L343.78,11.98 L344.35,11.95 L344.91,11.93 L345.48,11.90 L346.04,11.88 L346.61,11.85 L347.17,11.82 L347.74,11.80 L348.30,11.77 L348.87,11.75 L349.43,11.73 L350.00,11.70 L350.56,11.68 L351.13,11.65 L351.69,11.63 L352.26,11.61 L352.82,11.58 L353.39,11.56 L353.95,11.54 L354.52,11.52 L355.08,11.49 L355.64,11.47 L356.21,11.45 L356.77,11.43 L357.34,11.41 L357.90,11.39 L358.47,11.37 L359.03,11.35 L359.60,11.33 L360.16,11.31 L360.73,11.29 L361.29,11.27 L361.86,11.25 L362.42,11.23 L362.99,11.21 L363.55,11.19 L364.12,11.18 L364.68,11.16 L365.25,11.14 L365.81,11.12 L366.38,11.11 L366.94,11.09 L367.51,11.07 L368.07,11.06 L368.64,11.04 L369.20,11.03" stroke="#00ffff" stroke-dasharray="4 1.1 1 1.1"/>
<path d="M37.80,247.04 L38.77,247.04 L38.98,247.03 L39.19,247.01 L39.40,246.98 L39.62,246.95 L39.83,246.91 L40.04,246.86 L40.25,246.80 L40.47,246.74 L40.68,246.67 L40.89,246.60 L41.10,246.53 L41.31,246.44 L41.53,246.36 L41.74,246.26 L41.95,246.17 L42.16,246.06 L42.38,245.96 L42.59,245.85 L42.80,245.73 L43.01,245.61 L43.23,245.49 L43.44,245.36 L43.65,245.22 L43.86,245.09 L44.08,244.95 L44.29,244.80 L44.50,244.65 L44.71,244.50 L44.93,244.34 L45.14,244.18 L45.35,244.01 L45.56,243.84 L45.78,243.67 L45.99,243.50 L46.20,243.32 L46.41,243.13 L46.62,242.95 L46.84,242.76 L47.05,242.56 L47.26,242.36 L47.47,242.16 L47.69,241.96 L47.90,241.75 L48.11,241.54 L48.32,241.33 L48.54,241.11 L48.75,240.89 L48.96,240.67 L49.17,240.44 L49.39,240.21 L49.60,239.98 L49.81,239.75 L50.02,239.51 L50.24,239.27 L50.45,239.02 L50.66,238.78 L50.87,238.53 L51.08,238.27 L51.30,238.02 L51.51,237.76 L51.72,237.50 L51.93,237.24 L52.15,236.97 L52.36,236.70 L52.57,236.43 L52.78,236.16 L53.00,235.89 L53.21,235.61 L53.42,235.33 L53.63,235.04 L53.85,234.76 L54.06,234.47 L54.27,234.18 L54.48,233.89 L54.70,233.59 L54.91,233.30 L55.12,233.00 L55.33,232.70 L55.54,232.39 L55.76,232.09 L55.97,231.78 L56.18,231.47 L56.39,231.16 L56.61,230.85 L56.82,230.53 L57.03,230.21 L57.24,229.89 L57.46,229.57 L57.67,229.25 L57.88,228.92 L58.09,228.60 L58.31,228.27 L58.52,227.94 L58.73,227.60 L58.94,227.27 L59.16,226.93 L59.37,226.60 L59.58,226.26 L59.79,225.92 L60.01,225.58 L60.22,225.23 L60.43,224.89 L60.64,224.54 L60.85,224.19 L61.07,223.84 L61.28,223.49 L61.49,223.14 L61.70,222.78 L61.92,222.43 L62.13,222.07 L62.34,221.71 L62.55,221.35 L62.77,220.99 L62.98,220.63 L63.19,220.26 L63.40,219.90 L63.62,219.53 L63.83,219.16 L64.04,218.79 L64.25,218.42 L64.47,218.05 L64.68,217.68 L64.89,217.31 L65.10,216.93 L65.31,216.56 L65.53,216.18 L65.74,215.80 L65.95,215.43 L66.16,215.05 L66.38,214.67 L66.59,214.28 L66.80,213.90 L67.01,213.52 L67.23,213.13 L67.44,212.75 L67.65,212.36 L67.86,211.98 L68.07,211.59 L68.28,211.20 L68.49,210.81 L68.70,210.42 L68.91,210.03 L69.12,209.64 L69.33,209.25 L69.54,208.85 L69.74,208.46 L69.95,208.07 L70.16,207.67 L70.37,207.28 L70.57,206.88 L70.78,206.48 L70.99,206.09 L71.20,205.69 L71.40,205.29 L71.61,204.89 L71.81,204.49 L72.02,204.09 L72.23,203.69 L72.43,203.29 L72.64,202.89 L72.84,202.49 L73.05,202.08 L73.25,201.68 L73.46,201.28 L73.66,200.88 L73.86,200.47 L74.07,200.07 L74.27,199.66 L74.48,199.26 L74.68,198.85 L74.88,198.45 L75.09,198.04 L75.29,197.64 L75.49,197.23 L75.69,196.82 L75.90,196.42 L76.10,196.01 L76.30,195.60 L76.51,195.19 L76.71,194.79 L76.91,194.38 L77.11,193.97 L77.31,193.56 L77.52,193.16 L77.72,192.75 L77.92,192.34 L78.12,191.93 L78.32,191.52 L78.53,191.11 L78.73,190.70 L78.93,190.30 L79.13,189.89 L79.33,189.48 L79.53,189.07 L79.74,188.66 L79.94,188.25 L80.14,187.84 L80.34,187.43 L80.54,187.02 L80.74,186.62 L80.95,186.21 L81.15,185.80 L81.35,185.39 L81.55,184.98 L81.75,184.57 L81.96,184.17 L82.16,183.76 L82.36,183.35 L82.56,182.94 L82.76,182.53 L82.97,182.13 L83.17,181.72 L83.37,181.31 L83.57,180.90 L83.78,180.50 L83.98,180.09 L84.18,179.68 L84.38,179.28 L84.59,178.87 L84.79,178.47 L84.99,178.06 L85.20,177.66 L85.40,177.25 L85.61,176.85 L85.81,176.44 L86.01,176.04 L86.22,175.63 L86.42,175.23 L86.63,174.83 L86.83,174.42 L87.04,174.02 L87.24,173.62 L87.45,173.22 L87.65,172.82 L87.86,172.41 L88.07,172.01 L88.27,171.61 L88.48,171.21 L88.69,170.81 L88.89,170.41 L89.10,170.01 L89.31,169.62 L89.52,169.22 L89.72,168.82 L89.93,168.42 L90.14,168.03 L90.35,167.63 L90.56,167.23 L90.77,166.84 L90.98,166.44 L91.19,166.05 L91.40,165.65 L91.61,165.26 L91.82,164.87 L92.03,164.47 L92.24,164.08 L92.45,163.69 L92.66,163.30 L92.87,162.91 L93.09,162.52 L93.30,162.13 L93.51,161.74 L93.72,161.35 L93.94,160.96 L94.15,160.57 L94.36,160.18 L94.57,159.80 L94.79,159.41 L95.00,159.02 L95.21,158.64 L95.42,158.25 L95.64,157.87 L95.85,157.49 L96.06,157.10 L96.27,156.72 L96.49,156.34 L96.70,155.96 L96.91,155.58 L97.12,155.20 L97.33,154.82 L97.55,154.44 L97.76,154.06 L97.97,153.68 L98.18,153.30 L98.40,152.93 L98.61,152.55 L98.82,152.18 L99.03,151.80 L99.25,151.43 L99.46,151.05 L99.67,150.68 L99.88,150.31 L100.10,149.94 L100.31,149.57 L100.52,149.20 L100.73,148.83 L100.95,148.46 L101.16,148.09 L101.37,147.72 L101.58,147.35 L101.80,146.99 L102.01,146.62 L102.22,146.26 L102.43,145.89 L102.64,145.53 L102.86,145.16 L103.07,144.80 L103.28,144.44 L103.49,144.08 L103.71,143.72 L103.92,143.36 L104.13,143.00 L104.34,142.64 L104.56,142.28 L104.77,141.92 L104.98,141.57 L105.19,141.21 L105.41,140.86 L105.62,140.50 L105.83,140.15 L106.04,139.80 L106.26,139.44 L106.47,139.09 L106.68,138.74 L106.89,138.39 L107.10,138.04 L107.32,137.69 L107.53,137.34 L107.74,137.00 L107.95,136.65 L108.17,136.30 L108.38,135.96 L108.59,135.61 L108.80,135.27 L109.02,134.93 L109.23,134.58 L109.44,134.24 L109.65,133.90 L109.87,133.56 L110.08,133.22 L110.29,132.88 L110.50,132.54 L110.72,132.21 L110.93,131.87 L111.14,131.53 L111.35,131.20 L111.56,130.86 L111.78,130.53 L111.99,130.20 L112.20,129.86 L112.41,129.53 L112.63,129.20 L112.84,128.87 L113.05,128.54 L113.26,128.21 L113.48,127.88 L113.69,127.56 L113.90,127.23 L114.11,126.90 L114.33,126.58 L114.54,126.25 L114.75,125.93 L114.96,125.61 L115.18,125.29 L115.39,124.96 L115.60,124.64 L115.81,124.32 L116.03,124.00 L116.24,123.69 L116.45,123.37 L116.66,123.05 L116.87,122.73 L117.09,122.42 L117.30,122.10 L117.51,121.79 L117.72,121.48 L117.94,121.16 L118.15,120.85 L118.36,120.54 L118.57,120.23 L118.79,119.92 L119.00,119.61 L119.21,119.30 L119.42,118.99 L119.64,118.69 L119.85,118.38 L120.06,118.08 L120.27,117.77 L120.49,117.47 L120.70,117.16 L120.91,116.86 L121.12,116.56 L121.33,116.26 L121.55,115.96 L121.76,115.66 L121.97,115.36 L122.18,115.06 L122.40,114.77 L122.61,114.47 L122.82,114.18 L123.03,113.88 L123.25,113.59 L123.46,113.30 L123.67,113.00 L123.88,112.71 L124.10,112.42 L124.31,112.13 L124.52,111.84 L124.73,111.55 L124.95,111.27 L125.16,110.98 L125.37,110.69 L125.58,110.41 L125.80,110.12 L126.01,109.84 L126.22,109.56 L126.43,109.28 L126.64,108.99 L126.86,108.71 L127.07,108.43 L127.28,108.15 L127.49,107.88 L127.71,107.60 L127.92,107.32 L128.13,107.05 L128.34,106.77 L128.56,106.50 L128.77,106.22 L128.98,105.95 L129.19,105.68 L129.41,105.40 L129.62,105.13 L129.83,104.86 L130.04,104.59 L130.26,104.33 L130.47,104.06 L130.68,103.79 L130.89,103.52 L131.10,103.26 L131.32,102.99 L131.53,102.73 L131.74,102.47 L131.95,102.20 L132.17,101.94 L132.38,101.68 L132.59,101.42 L132.80,101.16 L133.02,100.90 L133.23,100.64 L133.44,100.39 L133.65,100.13 L133.87,99.87 L134.08,99.62 L134.29,99.36 L134.50,99.11 L134.72,98.85 L134.93,98.60 L135.14,98.35 L135.35,98.10 L135.56,97.85 L135.78,97.60 L135.99,97.35 L136.20,97.10 L136.41,96.85 L136.63,96.61 L136.84,96.36 L137.05,96.11 L137.26,95.87 L137.48,95.63 L137.69,95.38 L137.90,95.14 L138.11,94.90 L138.33,94.66 L138.54,94.41 L138.75,94.17 L138.96,93.94 L139.18,93.70 L139.39,93.46 L139.60,93.22 L139.81,92.98 L140.03,92.75 L140.24,92.51 L140.45,92.28 L140.66,92.04 L140.87,91.81 L141.09,91.58 L141.30,91.35 L141.51,91.12 L141.72,90.88 L141.94,90.65 L142.15,90.43 L142.36,90.20 L142.57,89.97 L142.79,89.74 L143.00,89.52 L143.21,89.29 L143.42,89.06 L143.64,88.84 L143.85,88.61 L144.41,88.02 L144.98,87.43 L145.54,86.85 L146.11,86.27 L146.67,85.70 L147.24,85.13 L147.80,84.56 L148.37,84.00 L148.93,83.44 L149.50,82.89 L150.06,82.34 L150.63,81.79 L151.19,81.25 L151.76,80.71 L152.32,80.18 L152.88,79.65 L153.45,79.13 L154.01,78.61 L154.58,78.09 L155.14,77.58 L155.71,77.07 L156.27,76.56 L156.84,76.06 L157.40,75.56 L157.97,75.06 L158.53,74.57 L159.10,74.08 L159.66,73.59 L160.23,73.11 L160.79,72.63 L161.36,72.16 L161.92,71.68 L162.49,71.22 L163.05,70.75 L163.62,70.29 L164.18,69.83 L164.75,69.38 L165.31,68.93 L165.87,68.49 L166.44,68.04 L167.00,67.60 L167.57,67.17 L168.13,66.74 L168.70,66.31 L169.26,65.88 L169.83,65.46 L170.39,65.04 L170.96,64.63 L171.52,64.21 L172.09,63.80 L172.65,63.40 L173.22,63.00 L173.78,62.60 L174.35,62.20 L174.91,61.81 L175.48,61.42 L176.04,61.03 L176.61,60.65 L177.17,60.26 L177.74,59.89 L178.30,59.51 L178.87,59.14 L179.43,58.77 L179.99,58.40 L180.56,58.04 L181.12,57.68 L181.69,57.32 L182.25,56.96 L182.82,56.61 L183.38,56.26 L183.95,55.91 L184.51,55.57 L185.08,55.22 L185.64,54.88 L186.21,54.54 L186.77,54.21 L187.34,53.88 L187.90,53.55 L188.47,53.22 L189.03,52.89 L189.60,52.57 L190.16,52.25 L190.73,51.93 L191.29,51.61 L191.86,51.30 L192.42,50.99 L192.98,50.68 L193.55,50.37 L194.11,50.07 L194.68,49.76 L195.24,49.46 L195.81,49.16 L196.37,48.87 L196.94,48.57 L197.50,48.28 L198.07,47.99 L198.63,47.70 L199.20,47.41 L199.76,47.13 L200.33,46.85 L200.89,46.57 L201.46,46.29 L202.02,46.01 L202.59,45.73 L203.15,45.46 L203.72,45.19 L204.28,44.92 L204.85,44.65 L205.41,44.39 L205.98,44.12 L206.54,43.86 L207.10,43.60 L207.67,43.34 L208.23,43.08 L208.80,42.83 L209.36,42.58 L209.93,42.32 L210.49,42.07 L211.06,41.82 L211.62,41.58 L212.19,41.33 L212.75,41.09 L213.32,40.85 L213.88,40.61 L214.45,40.37 L215.01,40.13 L215.58,39.90 L216.14,39.66 L216.71,39.43 L217.27,39.20 L217.84,38.97 L218.40,38.75 L218.97,38.52 L219.53,38.30 L220.09,38.07 L220.66,37.85 L221.22,37.63 L221.79,37.42 L222.35,37.20 L222.92,36.99 L223.48,36.77 L224.05,36.56 L224.61,36.35 L225.18,36.14 L225.74,35.94 L226.31,35.73 L226.87,35.53 L227.44,35.32 L228.00,35.12 L228.57,34.92 L229.13,34.73 L229.70,34.53 L230.26,34.33 L230.83,34.14 L231.39,33.95 L231.96,33.76 L232.52,33.57 L233.09,33.38 L233.65,33.20 L234.21,33.01 L234.78,32.83 L235.34,32.65 L235.91,32.47 L236.47,32.29 L237.04,32.11 L237.60,31.93 L238.17,31.76 L238.73,31.59 L239.30,31.41 L239.86,31.24 L240.43,31.07 L240.99,30.91 L241.56,30.74 L242.12,30.58 L242.69,30.41 L243.25,30.25 L243.82,30.09 L244.38,29.93 L244.95,29.77 L245.51,29.61 L246.08,29.46 L246.64,29.30 L247.20,29.15 L247.77,29.00 L248.33,28.85 L248.90,28.70 L249.46,28.55 L250.03,28.40 L250.59,28.26 L251.16,28.11 L251.72,27.97 L252.29,27.83 L252.85,27.68 L253.42,27.54 L253.98,27.41 L254.55,27.27 L255.11,27.13 L255.68,27.00 L256.24,26.86 L256.81,26.73 L257.37,26.60 L257.94,26.47 L258.50,26.34 L259.07,26.21 L259.63,26.08 L260.20,25.96 L260.76,25.83 L261.32,25.71 L261.89,25.58 L262.45,25.46 L263.02,25.34 L263.58,25.22 L264.15,25.10 L264.71,24.98 L265.28,24.87 L265.84,24.75 L266.41,24.63 L266.97,24.52 L267.54,24.41 L268.10,24.29 L268.67,24.18 L269.23,24.07 L269.80,23.96 L270.36,23.85 L270.93,23.75 L271.49,23.64 L272.06,23.53 L272.62,23.43 L273.19,23.32 L273.75,23.22 L274.31,23.12 L274.88,23.01 L275.44,22.91 L276.01,22.81 L276.57,22.71 L277.14,22.61 L277.70,22.52 L278.27,22.42 L278.83,22.32 L279.40,22.23 L279.96,22.13 L280.53,22.04 L281.09,21.95 L281.66,21.85 L282.22,21.76 L282.79,21.67 L283.35,21.58 L283.92,21.49 L284.48,21.40 L285.05,21.31 L285.61,21.23 L286.18,21.14 L286.74,21.05 L287.31,20.97 L287.87,20.88 L288.43,20.80 L289.00,20.71 L289.56,20.63 L290.13,20.55 L290.69,20.47 L291.26,20.39 L291.82,20.30 L292.39,20.22 L292.95,20.15 L293.52,20.07 L294.08,19.99 L294.65,19.91 L295.21,19.83 L295.78,19.76 L296.34,19.68 L296.91,19.61 L297.47,19.53 L298.04,19.46 L298.60,19.38 L299.17,19.31 L299.73,19.24 L300.30,19.16 L300.86,19.09 L301.42,19.02 L301.99,18.95 L302.55,18.88 L303.12,18.81 L303.68,18.74 L304.25,18.67 L304.81,18.60 L305.38,18.53 L305.94,18.47 L306.51,18.40 L307.07,18.33 L307.64,18.27 L308.20,18.20 L308.77,18.14 L309.33,18.07 L309.90,18.01 L310.46,17.94 L311.03,17.88 L311.59,17.81 L312.16,17.75 L312.72,17.69 L313.29,17.63 L313.85,17.56 L314.42,17.50 L314.98,17.44 L315.54,17.38 L316.11,17.32 L316.67,17.26 L317.24,17.20 L317.80,17.14 L318.37,17.08 L318.93,17.02 L319.50,16.96 L320.06,16.90 L320.63,16.85 L321.19,16.79 L321.76,16.73 L322.32,16.67 L322.89,16.62 L323.45,16.56 L324.02,16.50 L324.58,16.45 L325.15,16.39 L325.71,16.34 L326.28,16.28 L326.84,16.23 L327.41,16.17 L327.97,16.12 L328.53,16.07 L329.10,16.01 L329.66,15.96 L330.23,15.91 L330.79,15.85 L331.36,15.80 L331.92,15.75 L332.49,15.70 L333.05,15.64 L333.62,15.59 L334.18,15.54 L334.75,15.49 L335.31,15.44 L335.88,15.39 L336.44,15.34 L337.01,15.29 L337.57,15.24 L338.14,15.19 L338.70,15.14 L339.27,15.09 L339.83,15.04 L340.40,14.99 L340.96,14.95 L341.53,14.90 L342.09,14.85 L342.65,14.80 L343.22,14.76 L343.78,14.71 L344.35,14.66 L344.91,14.62 L345.48,14.57 L346.04,14.53 L346.61,14.48 L347.17,14.44 L347.74,14.39 L348.30,14.35 L348.87,14.30 L349.43,14.26 L350.00,14.22 L350.56,14.17 L351.13,14.13 L351.69,14.09 L352.26,14.05 L352.82,14.01 L353.39,13.96 L353.95,13.92 L354.52,13.88 L355.08,13.84 L355.64,13.80 L356.21,13.77 L356.77,13.73 L357.34,13.69 L357.90,13.65 L358.47,13.61 L359.03,13.58 L359.60,13.54 L360.16,13.50 L360.73,13.47 L361.29,13.43 L361.86,13.40 L362.42,13.36 L362.99,13.33 L363.55,13.29 L364.12,13.26 L364.68,13.23 L365.25,13.20 L365.81,13.16 L366.38,13.13 L366.94,13.10 L367.51,13.07 L368.07,13.04 L368.64,13.01 L369.20,12.98" stroke="#ffff00" stroke-dasharray="3.8 0.9 0.85 0.9 0.85 0.9"/>
<path d="M37.80,247.04 L38.77,247.04 L38.98,247.03 L39.19,247.02 L39.40,247.00 L39.62,246.97 L39.83,246.93 L40.04,246.89 L40.25,246.84 L40.47,246.78 L40.68,246.72 L40.89,246.66 L41.10,246.59 L41.31,246.51 L41.53,246.43 L41.74,246.34 L41.95,246.25 L42.16,246.15 L42.38,246.05 L42.59,245.95 L42.80,245.83 L43.01,245.72 L43.23,245.60 L43.44,245.47 L43.65,245.34 L43.86,245.21 L44.08,245.07 L44.29,244.93 L44.50,244.78 L44.71,244.63 L44.93,244.47 L45.14,244.31 L45.35,244.15 L45.56,243.98 L45.78,243.81 L45.99,243.64 L46.20,243.46 L46.41,243.27 L46.62,243.09 L46.84,242.90 L47.05,242.70 L47.26,242.50 L47.47,242.30 L47.69,242.10 L47.90,241.89 L48.11,241.68 L48.32,241.46 L48.54,241.24 L48.75,241.02 L48.96,240.79 L49.17,240.56 L49.39,240.33 L49.60,240.10 L49.81,239.86 L50.02,239.62 L50.24,239.37 L50.45,239.12 L50.66,238.87 L50.87,238.62 L51.08,238.36 L51.30,238.10 L51.51,237.84 L51.72,237.58 L51.93,237.31 L52.15,237.04 L52.36,236.76 L52.57,236.49 L52.78,236.21 L53.00,235.93 L53.21,235.64 L53.42,235.36 L53.63,235.07 L53.85,234.78 L54.06,234.48 L54.27,234.19 L54.48,233.89 L54.70,233.59 L54.91,233.28 L55.12,232.98 L55.33,232.67 L55.54,232.36 L55.76,232.05 L55.97,231.73 L56.18,231.42 L56.39,231.10 L56.61,230.78 L56.82,230.46 L57.03,230.13 L57.24,229.80 L57.46,229.48 L57.67,229.15 L57.88,228.81 L58.09,228.48 L58.31,228.14 L58.52,227.81 L58.73,227.47 L58.94,227.13 L59.16,226.78 L59.37,226.44 L59.58,226.09 L59.79,225.75 L60.01,225.40 L60.22,225.05 L60.43,224.69 L60.64,224.34 L60.85,223.99 L61.07,223.63 L61.28,223.27 L61.49,222.91 L61.70,222.55 L61.92,222.19 L62.13,221.83 L62.34,221.46 L62.55,221.10 L62.77,220.73 L62.98,220.36 L63.19,219.99 L63.40,219.62 L63.62,219.25 L63.83,218.88 L64.04,218.50 L64.25,218.13 L64.47,217.75 L64.68,217.37 L64.89,217.00 L65.10,216.62 L65.31,216.24 L65.53,215.86 L65.74,215.48 L65.95,215.09 L66.16,214.71 L66.38,214.33 L66.59,213.94 L66.80,213.56 L67.01,213.17 L67.22,212.78 L67.44,212.39 L67.65,212.00 L67.86,211.62 L68.07,211.23 L68.28,210.83 L68.49,210.44 L68.70,210.05 L68.91,209.66 L69.11,209.27 L69.32,208.87 L69.53,208.48 L69.74,208.08 L69.95,207.69 L70.16,207.29 L70.36,206.90 L70.57,206.50 L70.78,206.10 L70.98,205.71 L71.19,205.31 L71.40,204.91 L71.60,204.51 L71.81,204.11 L72.01,203.71 L72.22,203.31 L72.42,202.91 L72.63,202.51 L72.83,202.11 L73.04,201.71 L73.24,201.31 L73.45,200.91 L73.65,200.51 L73.86,200.11 L74.06,199.71 L74.26,199.31 L74.47,198.90 L74.67,198.50 L74.87,198.10 L75.08,197.70 L75.28,197.30 L75.48,196.89 L75.69,196.49 L75.89,196.09 L76.09,195.69 L76.29,195.29 L76.50,194.88 L76.70,194.48 L76.90,194.08 L77.10,193.68 L77.31,193.27 L77.51,192.87 L77.71,192.47 L77.91,192.07 L78.12,191.67 L78.32,191.26 L78.52,190.86 L78.72,190.46 L78.92,190.06 L79.12,189.66 L79.33,189.26 L79.53,188.86 L79.73,188.46 L79.93,188.05 L80.13,187.65 L80.34,187.25 L80.54,186.85 L80.74,186.45 L80.94,186.06 L81.14,185.66 L81.35,185.26 L81.55,184.86 L81.75,184.46 L81.95,184.06 L82.15,183.66 L82.36,183.27 L82.56,182.87 L82.76,182.47 L82.96,182.08 L83.17,181.68 L83.37,181.28 L83.57,180.89 L83.78,180.49 L83.98,180.10 L84.18,179.70 L84.39,179.31 L84.59,178.92 L84.79,178.52 L85.00,178.13 L85.20,177.74 L85.40,177.35 L85.61,176.96 L85.81,176.56 L86.02,176.17 L86.22,175.78 L86.43,175.39 L86.63,175.00 L86.84,174.62 L87.04,174.23 L87.25,173.84 L87.45,173.45 L87.66,173.07 L87.86,172.68 L88.07,172.29 L88.28,171.91 L88.48,171.52 L88.69,171.14 L88.90,170.75 L89.10,170.37 L89.31,169.99 L89.52,169.61 L89.73,169.22 L89.94,168.84 L90.14,168.46 L90.35,168.08 L90.56,167.70 L90.77,167.33 L90.98,166.95 L91.19,166.57 L91.40,166.19 L91.61,165.82 L91.82,165.44 L92.03,165.06 L92.24,164.69 L92.45,164.32 L92.66,163.94 L92.88,163.57 L93.09,163.20 L93.30,162.82 L93.51,162.45 L93.72,162.08 L93.94,161.71 L94.15,161.34 L94.36,160.98 L94.57,160.61 L94.79,160.24 L95.00,159.87 L95.21,159.51 L95.42,159.14 L95.64,158.78 L95.85,158.41 L96.06,158.05 L96.27,157.69 L96.49,157.33 L96.70,156.96 L96.91,156.60 L97.12,156.24 L97.33,155.88 L97.55,155.52 L97.76,155.17 L97.97,154.81 L98.18,154.45 L98.40,154.10 L98.61,153.74 L98.82,153.39 L99.03,153.03 L99.25,152.68 L99.46,152.33 L99.67,151.97 L99.88,151.62 L100.10,151.27 L100.31,150.92 L100.52,150.57 L100.73,150.23 L100.95,149.88 L101.16,149.53 L101.37,149.18 L101.58,148.84 L101.80,148.49 L102.01,148.15 L102.22,147.81 L102.43,147.46 L102.64,147.12 L102.86,146.78 L103.07,146.44 L103.28,146.10 L103.49,145.76 L103.71,145.42 L103.92,145.08 L104.13,144.75 L104.34,144.41 L104.56,144.08 L104.77,143.74 L104.98,143.41 L105.19,143.07 L105.41,142.74 L105.62,142.41 L105.83,142.08 L106.04,141.75 L106.26,141.42 L106.47,141.09 L106.68,140.76 L106.89,140.43 L107.10,140.10 L107.32,139.78 L107.53,139.45 L107.74,139.13 L107.95,138.80 L108.17,138.48 L108.38,138.16 L108.59,137.84 L108.80,137.52 L109.02,137.19 L109.23,136.88 L109.44,136.56 L109.65,136.24 L109.87,135.92 L110.08,135.60 L110.29,135.29 L110.50,134.97 L110.72,134.66 L110.93,134.34 L111.14,134.03 L111.35,133.72 L111.56,133.41 L111.78,133.10 L111.99,132.79 L112.20,132.48 L112.41,132.17 L112.63,131.86 L112.84,131.55 L113.05,131.25 L113.26,130.94 L113.48,130.63 L113.69,130.33 L113.90,130.03 L114.11,129.72 L114.33,129.42 L114.54,129.12 L114.75,128.82 L114.96,128.52 L115.18,128.22 L115.39,127.92 L115.60,127.62 L115.81,127.32 L116.03,127.03 L116.24,126.73 L116.45,126.44 L116.66,126.14 L116.87,125.85 L117.09,125.56 L117.30,125.26 L117.51,124.97 L117.72,124.68 L117.94,124.39 L118.15,124.10 L118.36,123.81 L118.57,123.53 L118.79,123.24 L119.00,122.95 L119.21,122.67 L119.42,122.38 L119.64,122.10 L119.85,121.81 L120.06,121.53 L120.27,121.25 L120.49,120.96 L120.70,120.68 L120.91,120.40 L121.12,120.12 L121.33,119.84 L121.55,119.57 L121.76,119.29 L121.97,119.01 L122.18,118.74 L122.40,118.46 L122.61,118.19 L122.82,117.91 L123.03,117.64 L123.25,117.37 L123.46,117.09 L123.67,116.82 L123.88,116.55 L124.10,116.28 L124.31,116.01 L124.52,115.75 L124.73,115.48 L124.95,115.21 L125.16,114.94 L125.37,114.68 L125.58,114.41 L125.80,114.15 L126.01,113.89 L126.22,113.62 L126.43,113.36 L126.64,113.10 L126.86,112.84 L127.07,112.58 L127.28,112.32 L127.49,112.06 L127.71,111.80 L127.92,111.54 L128.13,111.29 L128.34,111.03 L128.56,110.78 L128.77,110.52 L128.98,110.27 L129.19,110.01 L129.41,109.76 L129.62,109.51 L129.83,109.26 L130.04,109.01 L130.26,108.76 L130.47,108.51 L130.68,108.26 L130.89,108.01 L131.10,107.76 L131.32,107.51 L131.53,107.27 L131.74,107.02 L131.95,106.78 L132.17,106.53 L132.38,106.29 L132.59,106.05 L132.80,105.80 L133.02,105.56 L133.23,105.32 L133.44,105.08 L133.65,104.84 L133.87,104.60 L134.08,104.36 L134.29,104.12 L134.50,103.89 L134.72,103.65 L134.93,103.41 L135.14,103.18 L135.35,102.94 L135.56,102.71 L135.78,102.48 L135.99,102.24 L136.20,102.01 L136.41,101.78 L136.63,101.55 L136.84,101.32 L137.05,101.09 L137.26,100.86 L137.48,100.63 L137.69,100.40 L137.90,100.17 L138.11,99.95 L138.33,99.72 L138.54,99.50 L138.75,99.27 L138.96,99.05 L139.18,98.82 L139.39,98.60 L139.60,98.38 L139.81,98.15 L140.03,97.93 L140.24,97.71 L140.45,97.49 L140.66,97.27 L140.87,97.05 L141.09,96.83 L141.30,96.62 L141.51,96.40 L141.72,96.18 L141.94,95.97 L142.15,95.75 L142.36,95.54 L142.57,95.32 L142.79,95.11 L143.00,94.89 L143.21,94.68 L143.42,94.47 L143.64,94.26 L143.85,94.05 L144.41,93.49 L144.98,92.93 L145.54,92.38 L146.11,91.84 L146.67,91.29 L147.24,90.76 L147.80,90.22 L148.37,89.69 L148.93,89.16 L149.50,88.64 L150.06,88.12 L150.63,87.60 L151.19,87.09 L151.76,86.58 L152.32,86.08 L152.88,85.58 L153.45,85.08 L154.01,84.58 L154.58,84.09 L155.14,83.60 L155.71,83.12 L156.27,82.64 L156.84,82.16 L157.40,81.68 L157.97,81.21 L158.53,80.74 L159.10,80.28 L159.66,79.82 L160.23,79.36 L160.79,78.90 L161.36,78.45 L161.92,78.00 L162.49,77.55 L163.05,77.11 L163.62,76.67 L164.18,76.23 L164.75,75.80 L165.31,75.37 L165.87,74.94 L166.44,74.52 L167.00,74.09 L167.57,73.67 L168.13,73.26 L168.70,72.85 L169.26,72.43 L169.83,72.03 L170.39,71.62 L170.96,71.22 L171.52,70.82 L172.09,70.43 L172.65,70.03 L173.22,69.64 L173.78,69.25 L174.35,68.87 L174.91,68.49 L175.48,68.11 L176.04,67.73 L176.61,67.35 L177.17,66.98 L177.74,66.61 L178.30,66.24 L178.87,65.88 L179.43,65.52 L179.99,65.16 L180.56,64.80 L181.12,64.44 L181.69,64.09 L182.25,63.74 L182.82,63.39 L183.38,63.05 L183.95,62.70 L184.51,62.36 L185.08,62.02 L185.64,61.68 L186.21,61.35 L186.77,61.02 L187.34,60.69 L187.90,60.36 L188.47,60.03 L189.03,59.71 L189.60,59.39 L190.16,59.07 L190.73,58.75 L191.29,58.43 L191.86,58.12 L192.42,57.80 L192.98,57.49 L193.55,57.19 L194.11,56.88 L194.68,56.58 L195.24,56.27 L195.81,55.97 L196.37,55.67 L196.94,55.38 L197.50,55.08 L198.07,54.79 L198.63,54.50 L199.20,54.21 L199.76,53.92 L200.33,53.63 L200.89,53.35 L201.46,53.07 L202.02,52.79 L202.59,52.51 L203.15,52.23 L203.72,51.95 L204.28,51.68 L204.85,51.41 L205.41,51.13 L205.98,50.87 L206.54,50.60 L207.10,50.33 L207.67,50.07 L208.23,49.80 L208.80,49.54 L209.36,49.28 L209.93,49.02 L210.49,48.77 L211.06,48.51 L211.62,48.26 L212.19,48.01 L212.75,47.76 L213.32,47.51 L213.88,47.26 L214.45,47.01 L215.01,46.77 L215.58,46.53 L216.14,46.28 L216.71,46.04 L217.27,45.80 L217.84,45.57 L218.40,45.33 L218.97,45.10 L219.53,44.86 L220.09,44.63 L220.66,44.40 L221.22,44.17 L221.79,43.95 L222.35,43.72 L222.92,43.50 L223.48,43.27 L224.05,43.05 L224.61,42.83 L225.18,42.61 L225.74,42.40 L226.31,42.18 L226.87,41.96 L227.44,41.75 L228.00,41.54 L228.57,41.33 L229.13,41.12 L229.70,40.91 L230.26,40.70 L230.83,40.50 L231.39,40.29 L231.96,40.09 L232.52,39.89 L233.09,39.69 L233.65,39.49 L234.21,39.29 L234.78,39.10 L235.34,38.90 L235.91,38.71 L236.47,38.52 L237.04,38.33 L237.60,38.14 L238.17,37.95 L238.73,37.76 L239.30,37.57 L239.86,37.39 L240.43,37.21 L240.99,37.02 L241.56,36.84 L242.12,36.66 L242.69,36.48 L243.25,36.31 L243.82,36.13 L244.38,35.96 L244.95,35.78 L245.51,35.61 L246.08,35.44 L246.64,35.27 L247.20,35.10 L247.77,34.93 L248.33,34.76 L248.90,34.60 L249.46,34.43 L250.03,34.27 L250.59,34.11 L251.16,33.95 L251.72,33.79 L252.29,33.63 L252.85,33.47 L253.42,33.31 L253.98,33.16 L254.55,33.00 L255.11,32.85 L255.68,32.69 L256.24,32.54 L256.81,32.39 L257.37,32.24 L257.94,32.09 L258.50,31.95 L259.07,31.80 L259.63,31.65 L260.20,31.51 L260.76,31.37 L261.32,31.22 L261.89,31.08 L262.45,30.94 L263.02,30.80 L263.58,30.66 L264.15,30.53 L264.71,30.39 L265.28,30.25 L265.84,30.12 L266.41,29.98 L266.97,29.85 L267.54,29.72 L268.10,29.59 L268.67,29.46 L269.23,29.33 L269.80,29.20 L270.36,29.07 L270.93,28.94 L271.49,28.82 L272.06,28.69 L272.62,28.57 L273.19,28.44 L273.75,28.32 L274.31,28.20 L274.88,28.08 L275.44,27.96 L276.01,27.84 L276.57,27.72 L277.14,27.60 L277.70,27.48 L278.27,27.37 L278.83,27.25 L279.40,27.14 L279.96,27.02 L280.53,26.91 L281.09,26.80 L281.66,26.68 L282.22,26.57 L282.79,26.46 L283.35,26.35 L283.92,26.24 L284.48,26.13 L285.05,26.03 L285.61,25.92 L286.18,25.81 L286.74,25.71 L287.31,25.60 L287.87,25.50 L288.43,25.39 L289.00,25.29 L289.56,25.19 L290.13,25.09 L290.69,24.99 L291.26,24.89 L291.82,24.79 L292.39,24.69 L292.95,24.59 L293.52,24.49 L294.08,24.39 L294.65,24.30 L295.21,24.20 L295.78,24.10 L296.34,24.01 L296.91,23.92 L297.47,23.82 L298.04,23.73 L298.60,23.64 L299.17,23.54 L299.73,23.45 L300.30,23.36 L300.86,23.27 L301.42,23.18 L301.99,23.09 L302.55,23.00 L303.12,22.91 L303.68,22.83 L304.25,22.74 L304.81,22.65 L305.38,22.57 L305.94,22.48 L306.51,22.39 L307.07,22.31 L307.64,22.22 L308.20,22.14 L308.77,22.06 L309.33,21.97 L309.90,21.89 L310.46,21.81 L311.03,21.73 L311.59,21.65 L312.16,21.57 L312.72,21.49 L313.29,21.41 L313.85,21.33 L314.42,21.25 L314.98,21.17 L315.54,21.09 L316.11,21.01 L316.67,20.93 L317.24,20.86 L317.80,20.78 L318.37,20.70 L318.93,20.63 L319.50,20.55 L320.06,20.48 L320.63,20.40 L321.19,20.33 L321.76,20.25 L322.32,20.18 L322.89,20.11 L323.45,20.03 L324.02,19.96 L324.58,19.89 L325.15,19.82 L325.71,19.75 L326.28,19.68 L326.84,19.60 L327.41,19.53 L327.97,19.46 L328.53,19.39 L329.10,19.32 L329.66,19.26 L330.23,19.19 L330.79,19.12 L331.36,19.05 L331.92,18.98 L332.49,18.91 L333.05,18.85 L333.62,18.78 L334.18,18.71 L334.75,18.65 L335.31,18.58 L335.88,18.52 L336.44,18.45 L337.01,18.39 L337.57,18.32 L338.14,18.26 L338.70,18.19 L339.27,18.13 L339.83,18.07 L340.40,18.00 L340.96,17.94 L341.53,17.88 L342.09,17.82 L342.65,17.76 L343.22,17.69 L343.78,17.63 L344.35,17.57 L344.91,17.51 L345.48,17.45 L346.04,17.39 L346.61,17.33 L347.17,17.28 L347.74,17.22 L348.30,17.16 L348.87,17.10 L349.43,17.05 L350.00,16.99 L350.56,16.93 L351.13,16.88 L351.69,16.82 L352.26,16.77 L352.82,16.71 L353.39,16.66 L353.95,16.60 L354.52,16.55 L355.08,16.50 L355.64,16.44 L356.21,16.39 L356.77,16.34 L357.34,16.29 L357.90,16.24 L358.47,16.19 L359.03,16.14 L359.60,16.09 L360.16,16.04 L360.73,15.99 L361.29,15.94 L361.86,15.89 L362.42,15.84 L362.99,15.80 L363.55,15.75 L364.12,15.70 L364.68,15.66 L365.25,15.61 L365.81,15.57 L366.38,15.53 L366.94,15.48 L367.51,15.44 L368.07,15.40 L368.64,15.35 L369.20,15.31" stroke="#000000" stroke-dasharray="1.1 0.9 1.1 2.0"/>
<path d="M339.3,195.03 L360,195.03" stroke="#ff0000"/>
<path d="M339.3,202.47 L360,202.47" stroke="#00ff00" stroke-dasharray="1.95 0.95"/>
<path d="M339.3,209.91 L360,209.91" stroke="#0000ff" stroke-dasharray="1.55 1.2"/>
<path d="M339.3,217.34 L360,217.34" stroke="#ff00ff" stroke-dasharray="0.85 0.5"/>
<path d="M339.3,224.78 L360,224.78" stroke="#00ffff" stroke-dasharray="4 1.1 1 1.1"/>
<path d="M339.3,232.22 L360,232.22" stroke="#ffff00" stroke-dasharray="3.8 0.9 0.85 0.9 0.85 0.9"/>
<path d="M339.3,239.66 L360,239.66" stroke="#000000" stroke-dasharray="1.1 0.9 1.1 2.0"/>
</g>
</svg>
<div id="tx" style="position:absolute;left:0;top:0;width:382px;height:327px;will-change:transform">
<div class="t yt" style="top:281.8px">0</div>
<div class="t yt" style="top:226.3px">0.2</div>
<div class="t yt" style="top:170.7px">0.4</div>
<div class="t yt" style="top:115.2px">0.6</div>
<div class="t yt" style="top:59.6px">0.8</div>
<div class="t yt" style="top:4.1px">1</div>
<div class="t xt" style="left:18.8px">0</div>
<div class="t xt" style="left:85.1px">0.5</div>
<div class="t xt" style="left:151.4px">1</div>
<div class="t xt" style="left:217.6px">1.5</div>
<div class="t xt" style="left:283.9px">2</div>
<div class="t xt" style="left:350.2px">2.5</div>
<div class="lg" style="top:222.9px;color:#ff0000">n = 1</div>
<div class="lg" style="top:231.6px;color:#00ff00">n = 2</div>
<div class="lg" style="top:240.3px;color:#0000ff">n = 3</div>
<div class="lg" style="top:248.9px;color:#ff00ff">n = 4</div>
<div class="lg" style="top:257.6px;color:#00ffff">n = 5</div>
<div class="lg" style="top:266.3px;color:#ffff00">n = 6</div>
<div class="lg" style="top:275.0px;color:#000000">n = 7</div>
<div class="yl">Transmission Coefficient</div>
<div class="xl om">&omega;</div><div class="xl rr">r</div><div class="xl hh">h</div>
<div class="an">(a<sub>*</sub> = 1, l = 1/2, m = -1/2)</div>
</div>
</body></html>
